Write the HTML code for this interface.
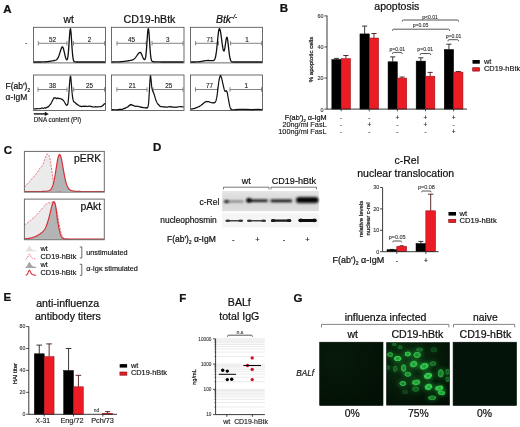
<!DOCTYPE html>
<html><head><meta charset="utf-8"><title>Figure</title>
<style>
html,body{margin:0;padding:0;background:#fff;}
svg{display:block;font-family:"Liberation Sans",Arial,sans-serif;}
text{stroke:#111;stroke-width:0.22px;}
</style></head><body>
<svg width="520" height="427" viewBox="0 0 520 427">
<defs>
<filter id="b1" x="-20%" y="-100%" width="140%" height="300%"><feGaussianBlur stdDeviation="0.8"/></filter>
<filter id="b2" x="-20%" y="-80%" width="140%" height="260%"><feGaussianBlur stdDeviation="0.45"/></filter>
<filter id="b3" x="-30%" y="-30%" width="160%" height="160%"><feGaussianBlur stdDeviation="0.5"/></filter>
<filter id="b4" x="-60%" y="-60%" width="220%" height="220%"><feGaussianBlur stdDeviation="2.2"/></filter>
<radialGradient id="cell" cx="50%" cy="50%" r="50%"><stop offset="0" stop-color="#1c9a32"/><stop offset="0.45" stop-color="#2cc246"/><stop offset="0.75" stop-color="#46ea62"/><stop offset="0.9" stop-color="#34d24e"/><stop offset="1" stop-color="#1a8a2c" stop-opacity="0.4"/></radialGradient>
</defs>
<rect width="520" height="427" fill="#fff"/>
<text x="3.2" y="12.8" font-size="11.5" text-anchor="start" font-weight="bold" font-style="normal" fill="#111" style="stroke:#111;stroke-width:0.242px" stroke="#111" stroke-width="0.3">A</text>
<text x="68.7" y="23.1" font-size="10.3" text-anchor="middle" font-weight="normal" font-style="normal" fill="#111" style="stroke:#111;stroke-width:0.216px" >wt</text>
<text x="149.5" y="23.1" font-size="10.6" text-anchor="middle" font-weight="normal" font-style="normal" fill="#111" style="stroke:#111;stroke-width:0.223px" >CD19-hBtk</text>
<text x="226.6" y="23.1" font-size="10.5" text-anchor="middle" font-style="italic" fill="#111">Btk<tspan font-size="6.5" dy="-4.5">-/-</tspan></text>
<text x="25" y="44.6" font-size="7" text-anchor="start" font-weight="normal" font-style="normal" fill="#111" style="stroke:#111;stroke-width:0.147px" >-</text>
<text x="5.5" y="89.4" font-size="8.5" fill="#111">F(ab')<tspan font-size="4.5" dy="2.5">2</tspan></text>
<text x="5.5" y="100.1" font-size="8.5" text-anchor="start" font-weight="normal" font-style="normal" fill="#111" style="stroke:#111;stroke-width:0.179px" >α-IgM</text>
<rect x="33.5" y="27.3" width="72.0" height="35.599999999999994" fill="none" stroke="#505050" stroke-width="0.85" />
<rect x="111.5" y="27.3" width="72.5" height="35.599999999999994" fill="none" stroke="#505050" stroke-width="0.85" />
<rect x="190.5" y="27.3" width="72.0" height="35.599999999999994" fill="none" stroke="#505050" stroke-width="0.85" />
<rect x="33.5" y="75" width="72.0" height="35.5" fill="none" stroke="#505050" stroke-width="0.85" />
<rect x="111.5" y="75" width="72.5" height="35.5" fill="none" stroke="#505050" stroke-width="0.85" />
<rect x="190.5" y="75" width="72.0" height="35.5" fill="none" stroke="#505050" stroke-width="0.85" />
<line x1="38.3" y1="43.3" x2="67" y2="43.3" stroke="#777" stroke-width="0.9" />
<line x1="38.3" y1="41.099999999999994" x2="38.3" y2="45.5" stroke="#777" stroke-width="0.9" />
<line x1="67" y1="41.099999999999994" x2="67" y2="45.5" stroke="#777" stroke-width="0.9" />
<text x="52.5" y="41.9" font-size="6.3" text-anchor="middle" font-weight="normal" font-style="normal" fill="#222" style="stroke:#222;stroke-width:0.132px" >52</text>
<line x1="73.5" y1="43.3" x2="104.6" y2="43.3" stroke="#777" stroke-width="0.9" />
<line x1="73.5" y1="41.099999999999994" x2="73.5" y2="45.5" stroke="#777" stroke-width="0.9" />
<line x1="104.6" y1="41.099999999999994" x2="104.6" y2="45.5" stroke="#777" stroke-width="0.9" />
<text x="89.5" y="41.9" font-size="6.3" text-anchor="middle" font-weight="normal" font-style="normal" fill="#222" style="stroke:#222;stroke-width:0.132px" >2</text>
<line x1="117" y1="43.3" x2="146.2" y2="43.3" stroke="#777" stroke-width="0.9" />
<line x1="117" y1="41.099999999999994" x2="117" y2="45.5" stroke="#777" stroke-width="0.9" />
<line x1="146.2" y1="41.099999999999994" x2="146.2" y2="45.5" stroke="#777" stroke-width="0.9" />
<text x="131.5" y="41.9" font-size="6.3" text-anchor="middle" font-weight="normal" font-style="normal" fill="#222" style="stroke:#222;stroke-width:0.132px" >45</text>
<line x1="152" y1="43.3" x2="183" y2="43.3" stroke="#777" stroke-width="0.9" />
<line x1="152" y1="41.099999999999994" x2="152" y2="45.5" stroke="#777" stroke-width="0.9" />
<line x1="183" y1="41.099999999999994" x2="183" y2="45.5" stroke="#777" stroke-width="0.9" />
<text x="167.7" y="41.9" font-size="6.3" text-anchor="middle" font-weight="normal" font-style="normal" fill="#222" style="stroke:#222;stroke-width:0.132px" >3</text>
<line x1="195.6" y1="43.3" x2="218.5" y2="43.3" stroke="#777" stroke-width="0.9" />
<line x1="195.6" y1="41.099999999999994" x2="195.6" y2="45.5" stroke="#777" stroke-width="0.9" />
<line x1="218.5" y1="41.099999999999994" x2="218.5" y2="45.5" stroke="#777" stroke-width="0.9" />
<text x="210" y="41.9" font-size="6.3" text-anchor="middle" font-weight="normal" font-style="normal" fill="#222" style="stroke:#222;stroke-width:0.132px" >71</text>
<line x1="230.6" y1="43.3" x2="261.7" y2="43.3" stroke="#777" stroke-width="0.9" />
<line x1="230.6" y1="41.099999999999994" x2="230.6" y2="45.5" stroke="#777" stroke-width="0.9" />
<line x1="261.7" y1="41.099999999999994" x2="261.7" y2="45.5" stroke="#777" stroke-width="0.9" />
<text x="246.9" y="41.9" font-size="6.3" text-anchor="middle" font-weight="normal" font-style="normal" fill="#222" style="stroke:#222;stroke-width:0.132px" >1</text>
<line x1="38" y1="89.5" x2="67" y2="89.5" stroke="#777" stroke-width="0.9" />
<line x1="38" y1="87.3" x2="38" y2="91.7" stroke="#777" stroke-width="0.9" />
<line x1="67" y1="87.3" x2="67" y2="91.7" stroke="#777" stroke-width="0.9" />
<text x="52.5" y="88.1" font-size="6.3" text-anchor="middle" font-weight="normal" font-style="normal" fill="#222" style="stroke:#222;stroke-width:0.132px" >38</text>
<line x1="73.7" y1="89.5" x2="104.5" y2="89.5" stroke="#777" stroke-width="0.9" />
<line x1="73.7" y1="87.3" x2="73.7" y2="91.7" stroke="#777" stroke-width="0.9" />
<line x1="104.5" y1="87.3" x2="104.5" y2="91.7" stroke="#777" stroke-width="0.9" />
<text x="89.5" y="88.1" font-size="6.3" text-anchor="middle" font-weight="normal" font-style="normal" fill="#222" style="stroke:#222;stroke-width:0.132px" >25</text>
<line x1="116.9" y1="89.5" x2="147" y2="89.5" stroke="#777" stroke-width="0.9" />
<line x1="116.9" y1="87.3" x2="116.9" y2="91.7" stroke="#777" stroke-width="0.9" />
<line x1="147" y1="87.3" x2="147" y2="91.7" stroke="#777" stroke-width="0.9" />
<text x="132.3" y="88.1" font-size="6.3" text-anchor="middle" font-weight="normal" font-style="normal" fill="#222" style="stroke:#222;stroke-width:0.132px" >21</text>
<line x1="153" y1="89.5" x2="183" y2="89.5" stroke="#777" stroke-width="0.9" />
<line x1="153" y1="87.3" x2="153" y2="91.7" stroke="#777" stroke-width="0.9" />
<line x1="183" y1="87.3" x2="183" y2="91.7" stroke="#777" stroke-width="0.9" />
<text x="168.7" y="88.1" font-size="6.3" text-anchor="middle" font-weight="normal" font-style="normal" fill="#222" style="stroke:#222;stroke-width:0.132px" >25</text>
<line x1="195.5" y1="89.5" x2="217.5" y2="89.5" stroke="#777" stroke-width="0.9" />
<line x1="195.5" y1="87.3" x2="195.5" y2="91.7" stroke="#777" stroke-width="0.9" />
<line x1="217.5" y1="87.3" x2="217.5" y2="91.7" stroke="#777" stroke-width="0.9" />
<text x="209.5" y="88.1" font-size="6.3" text-anchor="middle" font-weight="normal" font-style="normal" fill="#222" style="stroke:#222;stroke-width:0.132px" >77</text>
<line x1="230" y1="89.5" x2="261.5" y2="89.5" stroke="#777" stroke-width="0.9" />
<line x1="230" y1="87.3" x2="230" y2="91.7" stroke="#777" stroke-width="0.9" />
<line x1="261.5" y1="87.3" x2="261.5" y2="91.7" stroke="#777" stroke-width="0.9" />
<text x="246.3" y="88.1" font-size="6.3" text-anchor="middle" font-weight="normal" font-style="normal" fill="#222" style="stroke:#222;stroke-width:0.132px" >1</text>
<path d="M34.00,62.00 L34.50,62.00 L35.00,62.00 L35.50,62.00 L36.00,62.00 L36.50,62.00 L37.00,62.00 L37.50,62.00 L38.00,61.99 L38.50,61.99 L39.00,61.99 L39.50,61.99 L40.00,61.98 L40.50,61.98 L41.00,61.97 L41.50,61.96 L42.00,61.95 L42.50,61.94 L43.00,61.93 L43.50,61.91 L44.00,61.89 L44.50,61.86 L45.00,61.84 L45.50,61.81 L46.00,61.77 L46.50,61.73 L47.00,61.68 L47.50,61.63 L48.00,61.58 L48.50,61.51 L49.00,61.45 L49.50,61.38 L50.00,61.30 L50.50,61.22 L51.00,61.14 L51.50,61.05 L52.00,60.97 L52.50,60.88 L53.00,60.79 L53.50,60.70 L54.00,60.61 L54.50,60.51 L55.00,60.40 L55.50,60.25 L56.00,60.04 L56.50,59.75 L57.00,59.32 L57.50,58.73 L58.00,57.92 L58.50,56.86 L59.00,55.56 L59.50,54.03 L60.00,52.37 L60.50,50.69 L61.00,49.15 L61.50,47.91 L62.00,47.13 L62.50,46.92 L63.00,47.47 L63.50,48.87 L64.00,50.86 L64.50,53.12 L65.00,55.33 L65.50,57.24 L66.00,58.70 L66.50,59.62 L67.00,59.79 L67.50,58.83 L68.00,56.11 L68.50,51.08 L69.00,43.91 L69.50,36.09 L70.00,30.22 L70.50,28.71 L71.00,32.25 L71.50,39.32 L72.00,47.25 L72.50,53.81 L73.00,58.11 L73.50,60.41 L74.00,61.43 L74.50,61.81 L75.00,61.93 L75.50,61.97 L76.00,61.98 L76.50,61.99 L77.00,61.99 L77.50,61.99 L78.00,61.99 L78.50,62.00 L79.00,62.00 L79.50,62.00 L80.00,62.00 L80.50,62.00 L81.00,62.00 L81.50,62.00 L82.00,62.00 L82.50,62.00 L83.00,62.00 L83.50,62.00 L84.00,62.00 L84.50,62.00 L85.00,62.00 L85.50,62.00 L86.00,62.00 L86.50,62.00 L87.00,62.00 L87.50,62.00 L88.00,62.00 L88.50,62.00 L89.00,62.00 L89.50,62.00 L90.00,62.00 L90.50,62.00 L91.00,62.00 L91.50,62.00 L92.00,62.00 L92.50,62.00 L93.00,62.00 L93.50,62.00 L94.00,62.00 L94.50,62.00 L95.00,62.00 L95.50,62.00 L96.00,62.00 L96.50,62.00 L97.00,62.00 L97.50,62.00 L98.00,62.00 L98.50,62.00 L99.00,62.00 L99.50,62.00 L100.00,62.00 L100.50,62.00 L101.00,62.00 L101.50,62.00 L102.00,62.00 L102.50,62.00 L103.00,62.00 L103.50,62.00 L104.00,62.00 L104.50,62.00 L105.00,62.00" fill="none" stroke="#111" stroke-width="1.3"  stroke-linejoin="round"/>
<path d="M112.00,61.98 L112.50,61.98 L113.00,61.98 L113.50,61.97 L114.00,61.96 L114.50,61.96 L115.00,61.95 L115.50,61.94 L116.00,61.93 L116.50,61.92 L117.00,61.90 L117.50,61.89 L118.00,61.87 L118.50,61.85 L119.00,61.82 L119.50,61.80 L120.00,61.77 L120.50,61.74 L121.00,61.70 L121.50,61.66 L122.00,61.62 L122.50,61.57 L123.00,61.52 L123.50,61.47 L124.00,61.41 L124.50,61.35 L125.00,61.29 L125.50,61.22 L126.00,61.15 L126.50,61.07 L127.00,60.99 L127.50,60.91 L128.00,60.83 L128.50,60.75 L129.00,60.66 L129.50,60.57 L130.00,60.48 L130.50,60.38 L131.00,60.27 L131.50,60.15 L132.00,60.01 L132.50,59.84 L133.00,59.63 L133.50,59.37 L134.00,59.05 L134.50,58.65 L135.00,58.18 L135.50,57.61 L136.00,56.96 L136.50,56.25 L137.00,55.50 L137.50,54.74 L138.00,54.01 L138.50,53.37 L139.00,52.85 L139.50,52.51 L140.00,52.37 L140.50,52.49 L141.00,53.10 L141.50,54.11 L142.00,55.34 L142.50,56.61 L143.00,57.77 L143.50,58.72 L144.00,59.38 L144.50,59.67 L145.00,59.34 L145.50,57.91 L146.00,54.69 L146.50,49.18 L147.00,41.76 L147.50,34.18 L148.00,29.08 L148.50,28.64 L149.00,33.07 L149.50,40.54 L150.00,48.32 L150.50,54.46 L151.00,58.32 L151.50,60.33 L152.00,61.21 L152.50,61.55 L153.00,61.67 L153.50,61.73 L154.00,61.77 L154.50,61.80 L155.00,61.82 L155.50,61.85 L156.00,61.87 L156.50,61.89 L157.00,61.90 L157.50,61.92 L158.00,61.93 L158.50,61.94 L159.00,61.95 L159.50,61.96 L160.00,61.96 L160.50,61.97 L161.00,61.98 L161.50,61.98 L162.00,61.98 L162.50,61.99 L163.00,61.99 L163.50,61.99 L164.00,61.99 L164.50,61.99 L165.00,62.00 L165.50,62.00 L166.00,62.00 L166.50,62.00 L167.00,62.00 L167.50,62.00 L168.00,62.00 L168.50,62.00 L169.00,62.00 L169.50,62.00 L170.00,62.00 L170.50,62.00 L171.00,62.00 L171.50,62.00 L172.00,62.00 L172.50,62.00 L173.00,62.00 L173.50,62.00 L174.00,62.00 L174.50,62.00 L175.00,62.00 L175.50,62.00 L176.00,62.00 L176.50,62.00 L177.00,62.00 L177.50,62.00 L178.00,62.00 L178.50,62.00 L179.00,62.00 L179.50,62.00 L180.00,62.00 L180.50,62.00 L181.00,62.00 L181.50,62.00 L182.00,62.00 L182.50,62.00 L183.00,62.00 L183.50,62.00" fill="none" stroke="#111" stroke-width="1.3"  stroke-linejoin="round"/>
<path d="M191.00,62.00 L191.50,62.00 L192.00,62.00 L192.50,62.00 L193.00,61.99 L193.50,61.99 L194.00,61.99 L194.50,61.98 L195.00,61.98 L195.50,61.97 L196.00,61.95 L196.50,61.94 L197.00,61.91 L197.50,61.89 L198.00,61.85 L198.50,61.81 L199.00,61.76 L199.50,61.71 L200.00,61.64 L200.50,61.57 L201.00,61.49 L201.50,61.40 L202.00,61.30 L202.50,61.21 L203.00,61.11 L203.50,61.01 L204.00,60.92 L204.50,60.83 L205.00,60.75 L205.50,60.68 L206.00,60.62 L206.50,60.58 L207.00,60.54 L207.50,60.52 L208.00,60.51 L208.50,60.51 L209.00,60.52 L209.50,60.54 L210.00,60.56 L210.50,60.59 L211.00,60.62 L211.50,60.65 L212.00,60.68 L212.50,60.69 L213.00,60.67 L213.50,60.57 L214.00,60.30 L214.50,59.75 L215.00,58.74 L215.50,57.04 L216.00,54.47 L216.50,50.89 L217.00,46.39 L217.50,41.30 L218.00,36.23 L218.50,31.95 L219.00,29.23 L219.50,28.59 L220.00,29.56 L220.50,31.71 L221.00,34.81 L221.50,38.49 L222.00,42.36 L222.50,45.98 L223.00,48.91 L223.50,50.73 L224.00,51.10 L224.50,49.86 L225.00,47.15 L225.50,43.57 L226.00,40.04 L226.50,37.64 L227.00,37.20 L227.50,38.98 L228.00,42.56 L228.50,47.09 L229.00,51.62 L229.50,55.44 L230.00,58.24 L230.50,60.05 L231.00,61.08 L231.50,61.61 L232.00,61.85 L232.50,61.95 L233.00,61.98 L233.50,61.99 L234.00,62.00 L234.50,62.00 L235.00,62.00 L235.50,62.00 L236.00,62.00 L236.50,62.00 L237.00,62.00 L237.50,62.00 L238.00,62.00 L238.50,62.00 L239.00,62.00 L239.50,62.00 L240.00,62.00 L240.50,62.00 L241.00,62.00 L241.50,62.00 L242.00,62.00 L242.50,62.00 L243.00,62.00 L243.50,62.00 L244.00,62.00 L244.50,62.00 L245.00,62.00 L245.50,62.00 L246.00,62.00 L246.50,62.00 L247.00,62.00 L247.50,62.00 L248.00,62.00 L248.50,62.00 L249.00,62.00 L249.50,62.00 L250.00,62.00 L250.50,62.00 L251.00,62.00 L251.50,62.00 L252.00,62.00 L252.50,62.00 L253.00,62.00 L253.50,62.00 L254.00,62.00 L254.50,62.00 L255.00,62.00 L255.50,62.00 L256.00,62.00 L256.50,62.00 L257.00,62.00 L257.50,62.00 L258.00,62.00 L258.50,62.00 L259.00,62.00 L259.50,62.00 L260.00,62.00 L260.50,62.00 L261.00,62.00 L261.50,62.00 L262.00,62.00" fill="none" stroke="#111" stroke-width="1.3"  stroke-linejoin="round"/>
<path d="M34.00,109.00 L34.83,108.77 L36.02,108.91 L37.38,108.70 L38.77,108.77 L40.00,108.69 L41.11,108.19 L42.22,108.04 L43.26,108.49 L44.21,107.96 L45.00,107.81 L45.59,108.22 L46.02,107.74 L46.34,107.86 L46.65,107.46 L47.00,107.40 L47.40,106.85 L47.80,106.98 L48.20,106.89 L48.60,106.36 L49.00,106.17 L49.41,105.70 L49.82,104.81 L50.24,104.77 L50.63,104.11 L51.00,103.50 L51.34,102.92 L51.65,102.30 L51.94,101.67 L52.22,101.06 L52.50,100.50 L52.77,99.98 L53.04,99.49 L53.30,99.03 L53.55,98.49 L53.80,97.97 L54.04,98.30 L54.27,97.82 L54.50,97.85 L54.74,97.89 L55.00,97.75 L55.28,97.97 L55.58,97.79 L55.89,98.29 L56.20,98.24 L56.50,98.70 L56.79,98.68 L57.08,98.08 L57.36,98.02 L57.67,98.01 L58.00,98.53 L58.37,98.21 L58.76,98.44 L59.18,98.33 L59.59,98.60 L60.00,98.62 L60.41,98.67 L60.82,98.88 L61.24,98.93 L61.63,99.24 L62.00,99.23 L62.33,99.60 L62.64,99.78 L62.92,100.16 L63.21,100.25 L63.50,100.26 L63.80,100.94 L64.11,101.45 L64.41,102.00 L64.71,102.53 L65.00,103.00 L65.28,103.43 L65.55,104.10 L65.82,104.55 L66.07,104.84 L66.30,104.85 L66.51,105.13 L66.69,104.90 L66.87,105.39 L67.03,105.18 L67.20,104.85 L67.37,104.53 L67.53,104.65 L67.68,104.34 L67.84,103.82 L68.00,103.00 L68.16,101.85 L68.32,100.42 L68.48,98.78 L68.64,96.95 L68.80,95.00 L68.96,92.78 L69.12,90.25 L69.27,87.63 L69.43,85.14 L69.60,83.00 L69.78,81.06 L69.96,79.17 L70.14,77.55 L70.32,76.42 L70.50,76.25 L70.67,76.46 L70.83,77.65 L70.98,79.31 L71.14,81.18 L71.30,83.00 L71.46,84.87 L71.62,86.98 L71.78,89.14 L71.94,91.21 L72.10,93.00 L72.26,94.51 L72.42,95.86 L72.57,97.04 L72.73,98.09 L72.90,99.00 L73.06,99.74 L73.21,100.30 L73.38,100.74 L73.57,101.12 L73.80,101.84 L74.08,101.57 L74.41,102.37 L74.76,102.37 L75.13,102.46 L75.50,102.86 L75.86,103.52 L76.22,103.94 L76.59,103.71 L77.01,104.45 L77.50,104.38 L78.06,105.18 L78.68,105.25 L79.35,105.96 L80.06,106.32 L80.80,106.20 L81.57,106.69 L82.38,106.29 L83.22,106.17 L84.09,106.55 L85.00,106.17 L85.95,106.29 L86.94,106.40 L87.96,106.50 L88.99,106.15 L90.00,106.08 L91.00,106.72 L92.00,106.42 L93.00,106.98 L94.00,107.03 L95.00,106.71 L96.04,106.78 L97.12,106.81 L98.18,106.85 L99.16,106.75 L100.00,106.64 L100.68,106.57 L101.23,106.67 L101.69,106.20 L102.10,105.97 L102.50,105.95 L102.87,105.35 L103.20,105.06 L103.48,105.20 L103.75,104.56 L104.00,104.33 L104.25,103.79 L104.48,103.94 L104.70,103.97 L104.87,103.52 L105.00,103.80" fill="none" stroke="#111" stroke-width="1.2"  stroke-linejoin="round"/>
<path d="M112.00,109.60 L112.85,109.66 L114.06,109.72 L115.46,109.74 L116.83,109.80 L118.00,109.64 L118.94,109.72 L119.79,109.14 L120.57,109.35 L121.30,109.57 L122.00,109.29 L122.67,109.31 L123.30,108.67 L123.88,108.70 L124.45,108.36 L125.00,108.33 L125.54,108.11 L126.06,107.53 L126.56,107.38 L127.04,107.15 L127.50,107.25 L127.94,106.86 L128.36,106.18 L128.76,106.24 L129.14,105.55 L129.50,105.57 L129.83,105.03 L130.14,104.73 L130.42,105.05 L130.71,104.50 L131.00,104.43 L131.28,104.91 L131.55,104.95 L131.83,104.75 L132.14,105.32 L132.50,105.22 L132.93,105.46 L133.40,105.34 L133.92,105.95 L134.45,105.96 L135.00,106.28 L135.57,106.37 L136.16,106.13 L136.78,106.29 L137.39,106.28 L138.00,106.39 L138.60,106.46 L139.20,106.73 L139.80,107.03 L140.40,106.79 L141.00,107.31 L141.61,107.21 L142.22,107.31 L142.84,107.72 L143.43,107.61 L144.00,107.59 L144.55,107.77 L145.09,107.98 L145.61,107.65 L146.08,108.22 L146.50,107.61 L146.84,107.99 L147.13,107.97 L147.37,107.35 L147.59,107.57 L147.80,107.00 L147.99,106.51 L148.16,105.96 L148.31,105.25 L148.45,104.30 L148.60,103.00 L148.75,101.26 L148.89,99.15 L149.02,96.81 L149.16,94.38 L149.30,92.00 L149.44,89.54 L149.59,86.90 L149.73,84.29 L149.87,81.92 L150.00,80.00 L150.11,78.53 L150.21,77.36 L150.30,76.50 L150.40,75.98 L150.50,75.72 L150.61,76.04 L150.72,76.69 L150.84,77.64 L150.97,78.78 L151.10,80.00 L151.24,81.43 L151.39,83.14 L151.55,84.94 L151.72,86.63 L151.90,88.00 L152.10,89.00 L152.31,89.75 L152.54,90.35 L152.77,90.90 L153.00,91.50 L153.23,92.11 L153.47,92.66 L153.71,93.22 L153.95,93.81 L154.20,94.50 L154.45,95.31 L154.69,96.22 L154.95,97.16 L155.21,98.11 L155.50,99.00 L155.81,99.86 L156.15,100.72 L156.49,101.55 L156.85,102.32 L157.20,103.00 L157.55,103.59 L157.90,104.14 L158.26,104.25 L158.63,104.67 L159.00,105.11 L159.36,105.89 L159.69,105.71 L160.05,106.28 L160.47,106.58 L161.00,106.77 L161.66,106.56 L162.41,106.70 L163.23,106.90 L164.10,107.12 L165.00,106.76 L165.94,107.15 L166.93,107.12 L167.95,107.09 L168.98,106.54 L170.00,107.07 L171.00,106.59 L172.00,106.82 L173.00,107.07 L174.00,107.32 L175.00,107.00 L176.02,107.33 L177.07,107.04 L178.11,106.82 L179.10,106.75 L180.00,106.61 L180.85,106.51 L181.68,106.53 L182.42,106.84 L183.05,107.01 L183.50,106.70" fill="none" stroke="#111" stroke-width="1.2"  stroke-linejoin="round"/>
<path d="M191.00,109.30 L191.41,109.12 L191.98,108.91 L192.66,109.01 L193.35,108.56 L194.00,108.62 L194.60,108.36 L195.21,108.02 L195.81,108.05 L196.41,107.60 L197.00,107.57 L197.58,107.14 L198.16,106.88 L198.73,106.76 L199.28,106.67 L199.80,106.01 L200.27,105.74 L200.71,105.61 L201.13,105.43 L201.55,104.90 L202.00,104.45 L202.48,104.36 L202.99,103.49 L203.50,103.49 L204.01,102.83 L204.50,102.42 L204.97,102.11 L205.44,101.93 L205.90,101.94 L206.35,101.45 L206.80,101.54 L207.24,101.56 L207.68,101.51 L208.11,101.73 L208.55,101.64 L209.00,101.78 L209.47,101.99 L209.96,102.38 L210.45,102.42 L210.94,102.50 L211.40,102.74 L211.85,102.74 L212.29,102.71 L212.72,102.98 L213.12,102.93 L213.50,102.67 L213.85,102.80 L214.17,102.72 L214.46,102.81 L214.74,102.61 L215.00,102.19 L215.23,102.31 L215.44,101.80 L215.62,101.48 L215.81,101.05 L216.00,100.50 L216.20,99.83 L216.40,99.06 L216.60,98.18 L216.80,97.17 L217.00,96.00 L217.20,94.62 L217.40,93.03 L217.60,91.33 L217.80,89.62 L218.00,88.00 L218.20,86.41 L218.40,84.80 L218.60,83.22 L218.80,81.77 L219.00,80.50 L219.21,79.42 L219.42,78.49 L219.63,77.69 L219.83,77.03 L220.00,76.50 L220.14,76.12 L220.26,75.70 L220.37,75.74 L220.48,75.89 L220.60,75.63 L220.73,75.87 L220.86,75.78 L220.99,76.23 L221.14,76.55 L221.30,77.00 L221.48,77.60 L221.67,78.33 L221.87,79.16 L222.08,80.06 L222.30,81.00 L222.53,82.03 L222.77,83.16 L223.02,84.34 L223.26,85.47 L223.50,86.50 L223.73,87.45 L223.96,88.37 L224.18,89.21 L224.39,89.94 L224.60,90.50 L224.79,90.87 L224.98,91.17 L225.16,91.31 L225.33,91.24 L225.50,91.39 L225.66,91.01 L225.82,90.99 L225.98,90.70 L226.14,90.53 L226.30,90.48 L226.47,90.84 L226.65,90.94 L226.83,91.32 L227.01,91.83 L227.20,92.50 L227.39,93.37 L227.59,94.42 L227.79,95.60 L227.99,96.81 L228.20,98.00 L228.42,99.20 L228.64,100.46 L228.86,101.72 L229.08,102.92 L229.30,104.00 L229.50,104.97 L229.70,105.87 L229.90,106.69 L230.10,107.40 L230.30,108.00 L230.47,108.45 L230.61,108.77 L230.78,109.21 L231.02,109.14 L231.40,109.38 L231.59,109.19 L231.54,109.57 L231.76,109.56 L232.74,109.74 L235.00,109.66 L239.33,109.41 L245.41,109.46 L252.02,109.59 L257.95,109.26 L262.00,109.50" fill="none" stroke="#111" stroke-width="1.2"  stroke-linejoin="round"/>
<line x1="33.8" y1="113.9" x2="46" y2="113.9" stroke="#111" stroke-width="1.4" />
<path d="M44.8,111.7 L48.8,113.9 L44.8,116.1 Z" fill="#111" stroke="none" stroke-width="1" />
<text x="33.8" y="122" font-size="6.3" text-anchor="start" font-weight="normal" font-style="normal" fill="#111" style="stroke:#111;stroke-width:0.132px" >DNA content (PI)</text>
<text x="279.8" y="12.3" font-size="11.5" text-anchor="start" font-weight="bold" font-style="normal" fill="#111" style="stroke:#111;stroke-width:0.242px" stroke="#111" stroke-width="0.3">B</text>
<text x="396.8" y="9.9" font-size="10.5" text-anchor="middle" font-weight="normal" font-style="normal" fill="#111" style="stroke:#111;stroke-width:0.221px" >apoptosis</text>
<line x1="336.525" y1="59.5" x2="336.525" y2="58.4" stroke="#222" stroke-width="0.9" />
<line x1="333.92499999999995" y1="58.4" x2="339.125" y2="58.4" stroke="#222" stroke-width="0.9" />
<rect x="331.84999999999997" y="59.5" width="9.35" height="49.599999999999994" fill="#000" stroke="#000" stroke-width="0.5" />
<line x1="345.875" y1="58.6" x2="345.875" y2="55.5" stroke="#4a1414" stroke-width="0.9" />
<line x1="343.275" y1="55.5" x2="348.475" y2="55.5" stroke="#4a1414" stroke-width="0.9" />
<rect x="341.2" y="58.6" width="9.35" height="50.49999999999999" fill="#ec1c24" stroke="#8a1016" stroke-width="0.5" />
<line x1="341.2" y1="109.1" x2="341.2" y2="111.3" stroke="#222" stroke-width="0.8" />
<line x1="364.625" y1="33.9" x2="364.625" y2="26.1" stroke="#222" stroke-width="0.9" />
<line x1="362.025" y1="26.1" x2="367.225" y2="26.1" stroke="#222" stroke-width="0.9" />
<rect x="359.95" y="33.9" width="9.35" height="75.19999999999999" fill="#000" stroke="#000" stroke-width="0.5" />
<line x1="373.975" y1="38.0" x2="373.975" y2="33.5" stroke="#4a1414" stroke-width="0.9" />
<line x1="371.375" y1="33.5" x2="376.57500000000005" y2="33.5" stroke="#4a1414" stroke-width="0.9" />
<rect x="369.3" y="38.0" width="9.35" height="71.1" fill="#ec1c24" stroke="#8a1016" stroke-width="0.5" />
<line x1="369.3" y1="109.1" x2="369.3" y2="111.3" stroke="#222" stroke-width="0.8" />
<line x1="392.72499999999997" y1="61.8" x2="392.72499999999997" y2="56.9" stroke="#222" stroke-width="0.9" />
<line x1="390.12499999999994" y1="56.9" x2="395.325" y2="56.9" stroke="#222" stroke-width="0.9" />
<rect x="388.04999999999995" y="61.8" width="9.35" height="47.3" fill="#000" stroke="#000" stroke-width="0.5" />
<line x1="402.075" y1="78.1" x2="402.075" y2="77.0" stroke="#4a1414" stroke-width="0.9" />
<line x1="399.47499999999997" y1="77.0" x2="404.675" y2="77.0" stroke="#4a1414" stroke-width="0.9" />
<rect x="397.4" y="78.1" width="9.35" height="31.0" fill="#ec1c24" stroke="#8a1016" stroke-width="0.5" />
<line x1="397.4" y1="109.1" x2="397.4" y2="111.3" stroke="#222" stroke-width="0.8" />
<line x1="420.825" y1="61.1" x2="420.825" y2="57.8" stroke="#222" stroke-width="0.9" />
<line x1="418.22499999999997" y1="57.8" x2="423.425" y2="57.8" stroke="#222" stroke-width="0.9" />
<rect x="416.15" y="61.1" width="9.35" height="47.99999999999999" fill="#000" stroke="#000" stroke-width="0.5" />
<line x1="430.175" y1="76.2" x2="430.175" y2="72.4" stroke="#4a1414" stroke-width="0.9" />
<line x1="427.575" y1="72.4" x2="432.77500000000003" y2="72.4" stroke="#4a1414" stroke-width="0.9" />
<rect x="425.5" y="76.2" width="9.35" height="32.89999999999999" fill="#ec1c24" stroke="#8a1016" stroke-width="0.5" />
<line x1="425.5" y1="109.1" x2="425.5" y2="111.3" stroke="#222" stroke-width="0.8" />
<line x1="448.925" y1="49.5" x2="448.925" y2="44.2" stroke="#222" stroke-width="0.9" />
<line x1="446.325" y1="44.2" x2="451.52500000000003" y2="44.2" stroke="#222" stroke-width="0.9" />
<rect x="444.25" y="49.5" width="9.35" height="59.599999999999994" fill="#000" stroke="#000" stroke-width="0.5" />
<line x1="458.27500000000003" y1="72.1" x2="458.27500000000003" y2="71.5" stroke="#4a1414" stroke-width="0.9" />
<line x1="455.675" y1="71.5" x2="460.87500000000006" y2="71.5" stroke="#4a1414" stroke-width="0.9" />
<rect x="453.6" y="72.1" width="9.35" height="37.0" fill="#ec1c24" stroke="#8a1016" stroke-width="0.5" />
<line x1="453.6" y1="109.1" x2="453.6" y2="111.3" stroke="#222" stroke-width="0.8" />
<line x1="327.0" y1="15.6" x2="327.0" y2="109.1" stroke="#222" stroke-width="0.9" />
<line x1="327.0" y1="109.1" x2="467" y2="109.1" stroke="#222" stroke-width="0.9" />
<line x1="324.4" y1="109.1" x2="327.0" y2="109.1" stroke="#222" stroke-width="0.8" />
<text x="323.4" y="111.69999999999999" font-size="5.4" text-anchor="end" font-weight="normal" font-style="normal" fill="#333" style="stroke:#333;stroke-width:0.113px" >0</text>
<line x1="324.4" y1="78.03999999999999" x2="327.0" y2="78.03999999999999" stroke="#222" stroke-width="0.8" />
<text x="323.4" y="79.83999999999999" font-size="5.4" text-anchor="end" font-weight="normal" font-style="normal" fill="#333" style="stroke:#333;stroke-width:0.113px" >20</text>
<line x1="324.4" y1="46.98" x2="327.0" y2="46.98" stroke="#222" stroke-width="0.8" />
<text x="323.4" y="48.779999999999994" font-size="5.4" text-anchor="end" font-weight="normal" font-style="normal" fill="#333" style="stroke:#333;stroke-width:0.113px" >40</text>
<line x1="324.4" y1="15.920000000000002" x2="327.0" y2="15.920000000000002" stroke="#222" stroke-width="0.8" />
<text x="323.4" y="17.720000000000002" font-size="5.4" text-anchor="end" font-weight="normal" font-style="normal" fill="#333" style="stroke:#333;stroke-width:0.113px" >60</text>
<text transform="translate(313.4,59.5) rotate(-90)" font-size="6.1" text-anchor="middle" fill="#222">% apoptotic cells</text>
<path d="M402.2,21.6 Q402.2,20 403.3,20 L457.5,20 Q458.6,20 458.6,21.6" fill="none" stroke="#444" stroke-width="0.9" />
<text x="430" y="18.6" font-size="5.1" text-anchor="middle" font-weight="normal" font-style="normal" fill="#333" style="stroke:#333;stroke-width:0.107px" >p&lt;0.01</text>
<path d="M392.4,30.8 Q392.4,29.2 393.5,29.2 L448.5,29.2 Q449.6,29.2 449.6,30.8" fill="none" stroke="#444" stroke-width="0.9" />
<text x="420.6" y="27.2" font-size="5.1" text-anchor="middle" font-weight="normal" font-style="normal" fill="#333" style="stroke:#333;stroke-width:0.107px" >p=0.05</text>
<path d="M392.4,54.0 Q392.4,52.4 393.5,52.4 L401.09999999999997,52.4 Q402.2,52.4 402.2,54.0" fill="none" stroke="#444" stroke-width="0.9" />
<text x="397.3" y="50.6" font-size="5.1" text-anchor="middle" font-weight="normal" font-style="normal" fill="#333" style="stroke:#333;stroke-width:0.107px" >p=0.01</text>
<path d="M420.1,55.1 Q420.1,53.5 421.20000000000005,53.5 L429.7,53.5 Q430.8,53.5 430.8,55.1" fill="none" stroke="#444" stroke-width="0.9" />
<text x="425.2" y="51.4" font-size="5.1" text-anchor="middle" font-weight="normal" font-style="normal" fill="#333" style="stroke:#333;stroke-width:0.107px" >p=0.01</text>
<path d="M447.9,41.300000000000004 Q447.9,39.7 449.0,39.7 L457.5,39.7 Q458.6,39.7 458.6,41.300000000000004" fill="none" stroke="#444" stroke-width="0.9" />
<text x="453.6" y="37.8" font-size="5.1" text-anchor="middle" font-weight="normal" font-style="normal" fill="#333" style="stroke:#333;stroke-width:0.107px" >p=0.01</text>
<text x="326.6" y="119.7" font-size="7.3" text-anchor="end" fill="#222">F(ab')<tspan font-size="4" dy="1.8">2</tspan><tspan dy="-1.8"> α-IgM</tspan></text>
<text x="326.6" y="126.7" font-size="7.3" text-anchor="end" font-weight="normal" font-style="normal" fill="#222" style="stroke:#222;stroke-width:0.153px" >20ng/ml FasL</text>
<text x="326.6" y="133.7" font-size="7.3" text-anchor="end" font-weight="normal" font-style="normal" fill="#222" style="stroke:#222;stroke-width:0.153px" >100ng/ml FasL</text>
<text x="341.2" y="119.80000000000001" font-size="6.5" text-anchor="middle" font-weight="normal" font-style="normal" fill="#222" style="stroke:#222;stroke-width:0.137px" >-</text>
<text x="341.2" y="127.10000000000001" font-size="6.5" text-anchor="middle" font-weight="normal" font-style="normal" fill="#222" style="stroke:#222;stroke-width:0.137px" >-</text>
<text x="341.2" y="134.20000000000002" font-size="6.5" text-anchor="middle" font-weight="normal" font-style="normal" fill="#222" style="stroke:#222;stroke-width:0.137px" >-</text>
<text x="369.3" y="119.80000000000001" font-size="6.5" text-anchor="middle" font-weight="normal" font-style="normal" fill="#222" style="stroke:#222;stroke-width:0.137px" >-</text>
<text x="369.3" y="127.3" font-size="6.5" text-anchor="middle" font-weight="normal" font-style="normal" fill="#222" style="stroke:#222;stroke-width:0.137px" >+</text>
<text x="369.3" y="134.20000000000002" font-size="6.5" text-anchor="middle" font-weight="normal" font-style="normal" fill="#222" style="stroke:#222;stroke-width:0.137px" >-</text>
<text x="397.4" y="120.0" font-size="6.5" text-anchor="middle" font-weight="normal" font-style="normal" fill="#222" style="stroke:#222;stroke-width:0.137px" >+</text>
<text x="397.4" y="127.10000000000001" font-size="6.5" text-anchor="middle" font-weight="normal" font-style="normal" fill="#222" style="stroke:#222;stroke-width:0.137px" >-</text>
<text x="397.4" y="134.20000000000002" font-size="6.5" text-anchor="middle" font-weight="normal" font-style="normal" fill="#222" style="stroke:#222;stroke-width:0.137px" >-</text>
<text x="425.5" y="120.0" font-size="6.5" text-anchor="middle" font-weight="normal" font-style="normal" fill="#222" style="stroke:#222;stroke-width:0.137px" >+</text>
<text x="425.5" y="127.3" font-size="6.5" text-anchor="middle" font-weight="normal" font-style="normal" fill="#222" style="stroke:#222;stroke-width:0.137px" >+</text>
<text x="425.5" y="134.20000000000002" font-size="6.5" text-anchor="middle" font-weight="normal" font-style="normal" fill="#222" style="stroke:#222;stroke-width:0.137px" >-</text>
<text x="453.6" y="120.0" font-size="6.5" text-anchor="middle" font-weight="normal" font-style="normal" fill="#222" style="stroke:#222;stroke-width:0.137px" >+</text>
<text x="453.6" y="127.10000000000001" font-size="6.5" text-anchor="middle" font-weight="normal" font-style="normal" fill="#222" style="stroke:#222;stroke-width:0.137px" >-</text>
<text x="453.6" y="134.4" font-size="6.5" text-anchor="middle" font-weight="normal" font-style="normal" fill="#222" style="stroke:#222;stroke-width:0.137px" >+</text>
<rect x="472.5" y="60" width="7.3" height="3.7" fill="#000" stroke="none" stroke-width="1" />
<text x="484" y="63.7" font-size="7.4" text-anchor="start" font-weight="normal" font-style="normal" fill="#111" style="stroke:#111;stroke-width:0.155px" >wt</text>
<rect x="472.7" y="67.7" width="6.9" height="3.4" fill="#ec1c24" stroke="#7a0c12" stroke-width="0.6" />
<text x="484" y="71.4" font-size="7.4" text-anchor="start" font-weight="normal" font-style="normal" fill="#111" style="stroke:#111;stroke-width:0.155px" >CD19-hBtk</text>
<text x="3.8" y="153.8" font-size="11.5" text-anchor="start" font-weight="bold" font-style="normal" fill="#111" style="stroke:#111;stroke-width:0.242px" stroke="#111" stroke-width="0.3">C</text>
<path d="M24.30,191.50 L24.30,187.00 L24.64,186.66 L25.09,186.20 L25.63,185.66 L26.23,185.06 L26.86,184.42 L27.50,183.77 L28.12,183.12 L28.70,182.50 L29.24,181.90 L29.78,181.29 L30.32,180.66 L30.86,180.03 L31.39,179.40 L31.93,178.76 L32.46,178.13 L33.00,177.50 L33.55,176.87 L34.11,176.24 L34.68,175.60 L35.25,174.97 L35.80,174.34 L36.34,173.71 L36.84,173.10 L37.30,172.50 L37.72,171.90 L38.09,171.29 L38.44,170.69 L38.76,170.09 L39.07,169.52 L39.38,168.97 L39.68,168.46 L40.00,168.00 L40.33,167.61 L40.65,167.30 L40.97,167.05 L41.29,166.81 L41.61,166.57 L41.91,166.29 L42.21,165.94 L42.50,165.50 L42.78,164.95 L43.04,164.32 L43.30,163.64 L43.54,162.91 L43.79,162.16 L44.03,161.41 L44.26,160.68 L44.50,160.00 L44.74,159.32 L44.97,158.62 L45.21,157.91 L45.44,157.22 L45.66,156.56 L45.88,155.96 L46.10,155.43 L46.30,155.00 L46.49,154.67 L46.68,154.41 L46.86,154.22 L47.03,154.09 L47.20,154.02 L47.37,153.98 L47.53,153.98 L47.70,154.00 L47.87,154.05 L48.03,154.13 L48.20,154.25 L48.36,154.41 L48.52,154.61 L48.68,154.86 L48.84,155.15 L49.00,155.50 L49.15,155.90 L49.30,156.33 L49.45,156.81 L49.60,157.34 L49.75,157.92 L49.90,158.56 L50.05,159.25 L50.20,160.00 L50.36,160.82 L50.52,161.71 L50.68,162.66 L50.84,163.66 L51.01,164.70 L51.17,165.78 L51.34,166.88 L51.50,168.00 L51.66,169.17 L51.83,170.41 L51.99,171.69 L52.16,173.00 L52.32,174.31 L52.48,175.59 L52.64,176.83 L52.80,178.00 L52.95,179.12 L53.10,180.23 L53.24,181.32 L53.39,182.38 L53.53,183.38 L53.68,184.33 L53.84,185.21 L54.00,186.00 L54.17,186.71 L54.33,187.34 L54.50,187.91 L54.67,188.42 L54.85,188.87 L55.05,189.28 L55.26,189.66 L55.50,190.00 L55.75,190.30 L56.02,190.54 L56.30,190.73 L56.59,190.89 L56.91,191.01 L57.25,191.12 L57.61,191.21 L58.00,191.30 L58.46,191.38 L58.99,191.43 L59.57,191.46 L60.16,191.48 L60.73,191.49 L61.25,191.49 L61.68,191.49 L62.00,191.50 L62.00,191.50 Z" fill="#ebebeb" stroke="none" stroke-width="1"  stroke-linejoin="round"/>
<path d="M24.30,187.00 L24.64,186.66 L25.09,186.20 L25.63,185.66 L26.23,185.06 L26.86,184.42 L27.50,183.77 L28.12,183.12 L28.70,182.50 L29.24,181.90 L29.78,181.29 L30.32,180.66 L30.86,180.03 L31.39,179.40 L31.93,178.76 L32.46,178.13 L33.00,177.50 L33.55,176.87 L34.11,176.24 L34.68,175.60 L35.25,174.97 L35.80,174.34 L36.34,173.71 L36.84,173.10 L37.30,172.50 L37.72,171.90 L38.09,171.29 L38.44,170.69 L38.76,170.09 L39.07,169.52 L39.38,168.97 L39.68,168.46 L40.00,168.00 L40.33,167.61 L40.65,167.30 L40.97,167.05 L41.29,166.81 L41.61,166.57 L41.91,166.29 L42.21,165.94 L42.50,165.50 L42.78,164.95 L43.04,164.32 L43.30,163.64 L43.54,162.91 L43.79,162.16 L44.03,161.41 L44.26,160.68 L44.50,160.00 L44.74,159.32 L44.97,158.62 L45.21,157.91 L45.44,157.22 L45.66,156.56 L45.88,155.96 L46.10,155.43 L46.30,155.00 L46.49,154.67 L46.68,154.41 L46.86,154.22 L47.03,154.09 L47.20,154.02 L47.37,153.98 L47.53,153.98 L47.70,154.00 L47.87,154.05 L48.03,154.13 L48.20,154.25 L48.36,154.41 L48.52,154.61 L48.68,154.86 L48.84,155.15 L49.00,155.50 L49.15,155.90 L49.30,156.33 L49.45,156.81 L49.60,157.34 L49.75,157.92 L49.90,158.56 L50.05,159.25 L50.20,160.00 L50.36,160.82 L50.52,161.71 L50.68,162.66 L50.84,163.66 L51.01,164.70 L51.17,165.78 L51.34,166.88 L51.50,168.00 L51.66,169.17 L51.83,170.41 L51.99,171.69 L52.16,173.00 L52.32,174.31 L52.48,175.59 L52.64,176.83 L52.80,178.00 L52.95,179.12 L53.10,180.23 L53.24,181.32 L53.39,182.38 L53.53,183.38 L53.68,184.33 L53.84,185.21 L54.00,186.00 L54.17,186.71 L54.33,187.34 L54.50,187.91 L54.67,188.42 L54.85,188.87 L55.05,189.28 L55.26,189.66 L55.50,190.00 L55.75,190.30 L56.02,190.54 L56.30,190.73 L56.59,190.89 L56.91,191.01 L57.25,191.12 L57.61,191.21 L58.00,191.30 L58.46,191.38 L58.99,191.43 L59.57,191.46 L60.16,191.48 L60.73,191.49 L61.25,191.49 L61.68,191.49 L62.00,191.50" fill="none" stroke="#e2565e" stroke-width="0.9" stroke-dasharray="2 1.3" stroke-linejoin="round"/>
<path d="M36.00,191.50 L36.00,191.50 L36.50,191.50 L37.00,191.50 L37.50,191.50 L38.00,191.50 L38.50,191.50 L39.00,191.50 L39.50,191.50 L40.00,191.49 L40.50,191.49 L41.00,191.49 L41.50,191.48 L42.00,191.48 L42.50,191.47 L43.00,191.46 L43.50,191.45 L44.00,191.43 L44.50,191.42 L45.00,191.39 L45.50,191.36 L46.00,191.32 L46.50,191.27 L47.00,191.21 L47.50,191.13 L48.00,191.02 L48.50,190.89 L49.00,190.71 L49.50,190.47 L50.00,190.16 L50.50,189.74 L51.00,189.19 L51.50,188.47 L52.00,187.54 L52.50,186.36 L53.00,184.89 L53.50,183.11 L54.00,180.98 L54.50,178.51 L55.00,175.74 L55.50,172.72 L56.00,169.55 L56.50,166.33 L57.00,163.22 L57.50,160.37 L58.00,157.95 L58.50,156.09 L59.00,154.92 L59.50,154.51 L60.00,154.82 L60.50,155.77 L61.00,157.31 L61.50,159.35 L62.00,161.79 L62.50,164.51 L63.00,167.39 L63.50,170.30 L64.00,173.15 L64.50,175.84 L65.00,178.32 L65.50,180.55 L66.00,182.50 L66.50,184.17 L67.00,185.57 L67.50,186.72 L68.00,187.66 L68.50,188.42 L69.00,189.02 L69.50,189.49 L70.00,189.86 L70.50,190.16 L71.00,190.39 L71.50,190.58 L72.00,190.73 L72.50,190.86 L73.00,190.96 L73.50,191.05 L74.00,191.12 L74.50,191.18 L75.00,191.24 L75.50,191.28 L76.00,191.32 L76.50,191.35 L77.00,191.38 L77.50,191.40 L78.00,191.42 L78.50,191.44 L79.00,191.45 L79.50,191.46 L80.00,191.47 L80.50,191.47 L81.00,191.48 L81.50,191.48 L82.00,191.49 L82.50,191.49 L83.00,191.49 L83.50,191.49 L84.00,191.50 L84.50,191.50 L85.00,191.50 L85.50,191.50 L86.00,191.50 L86.50,191.50 L87.00,191.50 L87.50,191.50 L88.00,191.50 L88.50,191.50 L89.00,191.50 L89.50,191.50 L90.00,191.50 L90.50,191.50 L91.00,191.50 L91.50,191.50 L92.00,191.50 L92.50,191.50 L93.00,191.50 L93.50,191.50 L94.00,191.50 L94.50,191.50 L95.00,191.50 L95.50,191.50 L96.00,191.50 L96.50,191.50 L97.00,191.50 L97.50,191.50 L98.00,191.50 L98.50,191.50 L99.00,191.50 L99.50,191.50 L100.00,191.50 L100.50,191.50 L101.00,191.50 L101.50,191.50 L102.00,191.50 L102.50,191.50 L103.00,191.50 L103.50,191.50 L104.00,191.50 L104.00,191.50 Z" fill="#b4b4b4" stroke="none" stroke-width="1"  stroke-linejoin="round"/>
<path d="M24.30,191.50 L36.00,191.50 L36.00,191.50 L36.50,191.50 L37.00,191.50 L37.50,191.50 L38.00,191.50 L38.50,191.50 L39.00,191.50 L39.50,191.50 L40.00,191.49 L40.50,191.49 L41.00,191.49 L41.50,191.48 L42.00,191.48 L42.50,191.47 L43.00,191.46 L43.50,191.45 L44.00,191.43 L44.50,191.42 L45.00,191.39 L45.50,191.36 L46.00,191.32 L46.50,191.27 L47.00,191.21 L47.50,191.13 L48.00,191.02 L48.50,190.89 L49.00,190.71 L49.50,190.47 L50.00,190.16 L50.50,189.74 L51.00,189.19 L51.50,188.47 L52.00,187.54 L52.50,186.36 L53.00,184.89 L53.50,183.11 L54.00,180.98 L54.50,178.51 L55.00,175.74 L55.50,172.72 L56.00,169.55 L56.50,166.33 L57.00,163.22 L57.50,160.37 L58.00,157.95 L58.50,156.09 L59.00,154.92 L59.50,154.51 L60.00,154.82 L60.50,155.77 L61.00,157.31 L61.50,159.35 L62.00,161.79 L62.50,164.51 L63.00,167.39 L63.50,170.30 L64.00,173.15 L64.50,175.84 L65.00,178.32 L65.50,180.55 L66.00,182.50 L66.50,184.17 L67.00,185.57 L67.50,186.72 L68.00,187.66 L68.50,188.42 L69.00,189.02 L69.50,189.49 L70.00,189.86 L70.50,190.16 L71.00,190.39 L71.50,190.58 L72.00,190.73 L72.50,190.86 L73.00,190.96 L73.50,191.05 L74.00,191.12 L74.50,191.18 L75.00,191.24 L75.50,191.28 L76.00,191.32 L76.50,191.35 L77.00,191.38 L77.50,191.40 L78.00,191.42 L78.50,191.44 L79.00,191.45 L79.50,191.46 L80.00,191.47 L80.50,191.47 L81.00,191.48 L81.50,191.48 L82.00,191.49 L82.50,191.49 L83.00,191.49 L83.50,191.49 L84.00,191.50 L84.50,191.50 L85.00,191.50 L85.50,191.50 L86.00,191.50 L86.50,191.50 L87.00,191.50 L87.50,191.50 L88.00,191.50 L88.50,191.50 L89.00,191.50 L89.50,191.50 L90.00,191.50 L90.50,191.50 L91.00,191.50 L91.50,191.50 L92.00,191.50 L92.50,191.50 L93.00,191.50 L93.50,191.50 L94.00,191.50 L94.50,191.50 L95.00,191.50 L95.50,191.50 L96.00,191.50 L96.50,191.50 L97.00,191.50 L97.50,191.50 L98.00,191.50 L98.50,191.50 L99.00,191.50 L99.50,191.50 L100.00,191.50 L100.50,191.50 L101.00,191.50 L101.50,191.50 L102.00,191.50 L102.50,191.50 L103.00,191.50 L103.50,191.50 L104.00,191.50" fill="none" stroke="#d5303a" stroke-width="1.2"  stroke-linejoin="round"/>
<rect x="24.4" y="151.4" width="79.9" height="40.69999999999999" fill="none" stroke="#6a6a6a" stroke-width="1.0" />
<text x="101.2" y="162.3" font-size="10.4" text-anchor="end" font-weight="normal" font-style="normal" fill="#111" style="stroke:#111;stroke-width:0.218px" >pERK</text>
<path d="M24.30,239.10 L24.30,225.00 L24.58,224.81 L24.96,224.57 L25.40,224.29 L25.90,223.97 L26.43,223.62 L26.97,223.25 L27.50,222.88 L28.00,222.50 L28.49,222.10 L29.00,221.67 L29.52,221.22 L30.04,220.75 L30.56,220.28 L31.06,219.83 L31.55,219.40 L32.00,219.00 L32.43,218.64 L32.84,218.30 L33.23,217.99 L33.61,217.69 L33.97,217.39 L34.32,217.10 L34.67,216.81 L35.00,216.50 L35.32,216.19 L35.61,215.89 L35.90,215.58 L36.17,215.28 L36.44,214.97 L36.71,214.66 L37.00,214.34 L37.30,214.00 L37.62,213.65 L37.94,213.30 L38.27,212.93 L38.61,212.56 L38.95,212.18 L39.29,211.80 L39.65,211.40 L40.00,211.00 L40.37,210.58 L40.75,210.12 L41.15,209.66 L41.54,209.19 L41.94,208.72 L42.31,208.28 L42.67,207.87 L43.00,207.50 L43.30,207.18 L43.58,206.89 L43.85,206.63 L44.09,206.39 L44.33,206.16 L44.56,205.94 L44.78,205.73 L45.00,205.50 L45.21,205.27 L45.40,205.04 L45.58,204.82 L45.75,204.60 L45.92,204.39 L46.10,204.18 L46.29,203.99 L46.50,203.80 L46.73,203.61 L46.98,203.42 L47.24,203.23 L47.50,203.06 L47.76,202.90 L48.02,202.76 L48.27,202.66 L48.50,202.60 L48.71,202.60 L48.91,202.65 L49.10,202.75 L49.28,202.87 L49.46,202.99 L49.64,203.10 L49.82,203.17 L50.00,203.20 L50.19,203.17 L50.38,203.12 L50.56,203.03 L50.75,202.93 L50.94,202.82 L51.12,202.71 L51.31,202.60 L51.50,202.50 L51.69,202.40 L51.88,202.29 L52.06,202.18 L52.25,202.06 L52.44,201.96 L52.62,201.88 L52.81,201.82 L53.00,201.80 L53.19,201.79 L53.38,201.79 L53.56,201.79 L53.75,201.83 L53.94,201.90 L54.12,202.03 L54.31,202.22 L54.50,202.50 L54.69,202.85 L54.87,203.25 L55.05,203.71 L55.23,204.23 L55.42,204.82 L55.60,205.47 L55.80,206.20 L56.00,207.00 L56.21,207.90 L56.43,208.91 L56.66,210.00 L56.89,211.16 L57.12,212.35 L57.35,213.57 L57.58,214.80 L57.80,216.00 L58.02,217.22 L58.22,218.48 L58.43,219.76 L58.64,221.06 L58.84,222.35 L59.06,223.62 L59.27,224.84 L59.50,226.00 L59.74,227.12 L59.98,228.24 L60.23,229.33 L60.48,230.39 L60.74,231.40 L60.99,232.34 L61.25,233.21 L61.50,234.00 L61.75,234.69 L61.99,235.31 L62.23,235.85 L62.47,236.33 L62.71,236.76 L62.96,237.14 L63.23,237.48 L63.50,237.80 L63.78,238.07 L64.05,238.29 L64.33,238.45 L64.62,238.58 L64.93,238.67 L65.26,238.75 L65.61,238.82 L66.00,238.90 L66.46,238.97 L66.99,239.02 L67.57,239.05 L68.16,239.07 L68.73,239.08 L69.25,239.09 L69.68,239.09 L70.00,239.10 L70.00,239.10 Z" fill="#ebebeb" stroke="none" stroke-width="1"  stroke-linejoin="round"/>
<path d="M24.30,225.00 L24.58,224.81 L24.96,224.57 L25.40,224.29 L25.90,223.97 L26.43,223.62 L26.97,223.25 L27.50,222.88 L28.00,222.50 L28.49,222.10 L29.00,221.67 L29.52,221.22 L30.04,220.75 L30.56,220.28 L31.06,219.83 L31.55,219.40 L32.00,219.00 L32.43,218.64 L32.84,218.30 L33.23,217.99 L33.61,217.69 L33.97,217.39 L34.32,217.10 L34.67,216.81 L35.00,216.50 L35.32,216.19 L35.61,215.89 L35.90,215.58 L36.17,215.28 L36.44,214.97 L36.71,214.66 L37.00,214.34 L37.30,214.00 L37.62,213.65 L37.94,213.30 L38.27,212.93 L38.61,212.56 L38.95,212.18 L39.29,211.80 L39.65,211.40 L40.00,211.00 L40.37,210.58 L40.75,210.12 L41.15,209.66 L41.54,209.19 L41.94,208.72 L42.31,208.28 L42.67,207.87 L43.00,207.50 L43.30,207.18 L43.58,206.89 L43.85,206.63 L44.09,206.39 L44.33,206.16 L44.56,205.94 L44.78,205.73 L45.00,205.50 L45.21,205.27 L45.40,205.04 L45.58,204.82 L45.75,204.60 L45.92,204.39 L46.10,204.18 L46.29,203.99 L46.50,203.80 L46.73,203.61 L46.98,203.42 L47.24,203.23 L47.50,203.06 L47.76,202.90 L48.02,202.76 L48.27,202.66 L48.50,202.60 L48.71,202.60 L48.91,202.65 L49.10,202.75 L49.28,202.87 L49.46,202.99 L49.64,203.10 L49.82,203.17 L50.00,203.20 L50.19,203.17 L50.38,203.12 L50.56,203.03 L50.75,202.93 L50.94,202.82 L51.12,202.71 L51.31,202.60 L51.50,202.50 L51.69,202.40 L51.88,202.29 L52.06,202.18 L52.25,202.06 L52.44,201.96 L52.62,201.88 L52.81,201.82 L53.00,201.80 L53.19,201.79 L53.38,201.79 L53.56,201.79 L53.75,201.83 L53.94,201.90 L54.12,202.03 L54.31,202.22 L54.50,202.50 L54.69,202.85 L54.87,203.25 L55.05,203.71 L55.23,204.23 L55.42,204.82 L55.60,205.47 L55.80,206.20 L56.00,207.00 L56.21,207.90 L56.43,208.91 L56.66,210.00 L56.89,211.16 L57.12,212.35 L57.35,213.57 L57.58,214.80 L57.80,216.00 L58.02,217.22 L58.22,218.48 L58.43,219.76 L58.64,221.06 L58.84,222.35 L59.06,223.62 L59.27,224.84 L59.50,226.00 L59.74,227.12 L59.98,228.24 L60.23,229.33 L60.48,230.39 L60.74,231.40 L60.99,232.34 L61.25,233.21 L61.50,234.00 L61.75,234.69 L61.99,235.31 L62.23,235.85 L62.47,236.33 L62.71,236.76 L62.96,237.14 L63.23,237.48 L63.50,237.80 L63.78,238.07 L64.05,238.29 L64.33,238.45 L64.62,238.58 L64.93,238.67 L65.26,238.75 L65.61,238.82 L66.00,238.90 L66.46,238.97 L66.99,239.02 L67.57,239.05 L68.16,239.07 L68.73,239.08 L69.25,239.09 L69.68,239.09 L70.00,239.10" fill="none" stroke="#e2565e" stroke-width="0.9" stroke-dasharray="2 1.3" stroke-linejoin="round"/>
<path d="M24.30,239.10 L24.30,238.80 L24.64,238.77 L25.09,238.74 L25.63,238.71 L26.23,238.66 L26.86,238.61 L27.50,238.55 L28.12,238.48 L28.70,238.40 L29.24,238.31 L29.78,238.21 L30.32,238.10 L30.86,237.99 L31.39,237.86 L31.93,237.72 L32.46,237.57 L33.00,237.40 L33.54,237.22 L34.09,237.02 L34.64,236.81 L35.19,236.59 L35.73,236.35 L36.27,236.11 L36.79,235.86 L37.30,235.60 L37.79,235.33 L38.28,235.06 L38.75,234.78 L39.22,234.49 L39.68,234.18 L40.12,233.87 L40.57,233.54 L41.00,233.20 L41.43,232.85 L41.86,232.49 L42.28,232.12 L42.69,231.73 L43.09,231.33 L43.48,230.91 L43.85,230.47 L44.20,230.00 L44.53,229.51 L44.84,229.01 L45.14,228.50 L45.42,227.96 L45.69,227.39 L45.96,226.80 L46.23,226.17 L46.50,225.50 L46.77,224.79 L47.04,224.04 L47.31,223.25 L47.58,222.44 L47.84,221.60 L48.09,220.74 L48.35,219.87 L48.60,219.00 L48.85,218.11 L49.09,217.18 L49.33,216.24 L49.57,215.28 L49.80,214.32 L50.04,213.36 L50.27,212.42 L50.50,211.50 L50.73,210.57 L50.97,209.62 L51.20,208.65 L51.43,207.71 L51.66,206.80 L51.88,205.94 L52.09,205.17 L52.30,204.50 L52.50,203.92 L52.69,203.40 L52.88,202.94 L53.06,202.55 L53.24,202.23 L53.41,201.98 L53.58,201.80 L53.75,201.70 L53.92,201.67 L54.08,201.72 L54.24,201.83 L54.39,202.02 L54.54,202.28 L54.70,202.61 L54.85,203.02 L55.00,203.50 L55.15,204.08 L55.31,204.76 L55.46,205.53 L55.62,206.36 L55.77,207.25 L55.92,208.16 L56.06,209.08 L56.20,210.00 L56.33,210.92 L56.45,211.86 L56.56,212.82 L56.67,213.81 L56.79,214.82 L56.91,215.86 L57.05,216.92 L57.20,218.00 L57.37,219.13 L57.56,220.33 L57.75,221.56 L57.96,222.81 L58.17,224.05 L58.38,225.27 L58.59,226.42 L58.80,227.50 L59.01,228.52 L59.22,229.51 L59.43,230.47 L59.64,231.39 L59.85,232.26 L60.07,233.07 L60.28,233.82 L60.50,234.50 L60.72,235.11 L60.93,235.64 L61.15,236.11 L61.37,236.53 L61.59,236.89 L61.82,237.22 L62.06,237.52 L62.30,237.80 L62.53,238.04 L62.74,238.23 L62.95,238.37 L63.17,238.49 L63.42,238.58 L63.71,238.65 L64.06,238.72 L64.50,238.80 L64.83,238.87 L64.98,238.93 L65.07,238.98 L65.26,239.01 L65.71,239.04 L66.54,239.06 L67.93,239.08 L70.00,239.10 L73.12,239.11 L77.29,239.12 L82.16,239.12 L87.34,239.12 L92.49,239.11 L97.22,239.11 L101.18,239.10 L104.00,239.10 L104.00,239.10 Z" fill="#b4b4b4" stroke="none" stroke-width="1"  stroke-linejoin="round"/>
<path d="M24.30,238.80 L24.64,238.77 L25.09,238.74 L25.63,238.71 L26.23,238.66 L26.86,238.61 L27.50,238.55 L28.12,238.48 L28.70,238.40 L29.24,238.31 L29.78,238.21 L30.32,238.10 L30.86,237.99 L31.39,237.86 L31.93,237.72 L32.46,237.57 L33.00,237.40 L33.54,237.22 L34.09,237.02 L34.64,236.81 L35.19,236.59 L35.73,236.35 L36.27,236.11 L36.79,235.86 L37.30,235.60 L37.79,235.33 L38.28,235.06 L38.75,234.78 L39.22,234.49 L39.68,234.18 L40.12,233.87 L40.57,233.54 L41.00,233.20 L41.43,232.85 L41.86,232.49 L42.28,232.12 L42.69,231.73 L43.09,231.33 L43.48,230.91 L43.85,230.47 L44.20,230.00 L44.53,229.51 L44.84,229.01 L45.14,228.50 L45.42,227.96 L45.69,227.39 L45.96,226.80 L46.23,226.17 L46.50,225.50 L46.77,224.79 L47.04,224.04 L47.31,223.25 L47.58,222.44 L47.84,221.60 L48.09,220.74 L48.35,219.87 L48.60,219.00 L48.85,218.11 L49.09,217.18 L49.33,216.24 L49.57,215.28 L49.80,214.32 L50.04,213.36 L50.27,212.42 L50.50,211.50 L50.73,210.57 L50.97,209.62 L51.20,208.65 L51.43,207.71 L51.66,206.80 L51.88,205.94 L52.09,205.17 L52.30,204.50 L52.50,203.92 L52.69,203.40 L52.88,202.94 L53.06,202.55 L53.24,202.23 L53.41,201.98 L53.58,201.80 L53.75,201.70 L53.92,201.67 L54.08,201.72 L54.24,201.83 L54.39,202.02 L54.54,202.28 L54.70,202.61 L54.85,203.02 L55.00,203.50 L55.15,204.08 L55.31,204.76 L55.46,205.53 L55.62,206.36 L55.77,207.25 L55.92,208.16 L56.06,209.08 L56.20,210.00 L56.33,210.92 L56.45,211.86 L56.56,212.82 L56.67,213.81 L56.79,214.82 L56.91,215.86 L57.05,216.92 L57.20,218.00 L57.37,219.13 L57.56,220.33 L57.75,221.56 L57.96,222.81 L58.17,224.05 L58.38,225.27 L58.59,226.42 L58.80,227.50 L59.01,228.52 L59.22,229.51 L59.43,230.47 L59.64,231.39 L59.85,232.26 L60.07,233.07 L60.28,233.82 L60.50,234.50 L60.72,235.11 L60.93,235.64 L61.15,236.11 L61.37,236.53 L61.59,236.89 L61.82,237.22 L62.06,237.52 L62.30,237.80 L62.53,238.04 L62.74,238.23 L62.95,238.37 L63.17,238.49 L63.42,238.58 L63.71,238.65 L64.06,238.72 L64.50,238.80 L64.83,238.87 L64.98,238.93 L65.07,238.98 L65.26,239.01 L65.71,239.04 L66.54,239.06 L67.93,239.08 L70.00,239.10 L73.12,239.11 L77.29,239.12 L82.16,239.12 L87.34,239.12 L92.49,239.11 L97.22,239.11 L101.18,239.10 L104.00,239.10" fill="none" stroke="#d5303a" stroke-width="1.2"  stroke-linejoin="round"/>
<rect x="24.4" y="199.1" width="79.9" height="40.599999999999994" fill="none" stroke="#6a6a6a" stroke-width="1.0" />
<text x="101.2" y="210.3" font-size="10.4" text-anchor="end" font-weight="normal" font-style="normal" fill="#111" style="stroke:#111;stroke-width:0.218px" >pAkt</text>
<path d="M25.60,251.00 L25.87,250.91 L26.26,250.79 L26.69,250.57 L27.10,250.20 L27.49,249.56 L27.89,248.72 L28.27,247.87 L28.60,247.20 L28.84,246.71 L29.03,246.32 L29.20,246.07 L29.40,246.00 L29.63,246.17 L29.88,246.54 L30.13,247.02 L30.40,247.50 L30.67,248.01 L30.94,248.58 L31.24,249.14 L31.60,249.60 L32.03,249.94 L32.52,250.21 L33.05,250.42 L33.60,250.60 L34.25,250.75 L34.98,250.86 L35.64,250.94 L36.10,251.00 Z" fill="#e4e0e0" stroke="#eed8d8" stroke-width="0.6"  stroke-linejoin="round"/>
<path d="M25.60,259.00 L25.87,258.91 L26.26,258.79 L26.69,258.57 L27.10,258.20 L27.49,257.56 L27.89,256.73 L28.27,255.87 L28.60,255.20 L28.84,254.71 L29.03,254.32 L29.20,254.07 L29.40,254.00 L29.63,254.17 L29.88,254.54 L30.13,255.02 L30.40,255.50 L30.67,256.01 L30.94,256.58 L31.24,257.14 L31.60,257.60 L32.03,257.94 L32.52,258.21 L33.05,258.42 L33.60,258.60 L34.25,258.75 L34.98,258.86 L35.64,258.94 L36.10,259.00" fill="none" stroke="#e2565e" stroke-width="0.9" stroke-dasharray="1.5 1.2" stroke-linejoin="round"/>
<path d="M25.60,267.40 L25.87,267.31 L26.26,267.19 L26.69,266.97 L27.10,266.60 L27.49,265.96 L27.89,265.12 L28.27,264.27 L28.60,263.60 L28.84,263.11 L29.03,262.72 L29.20,262.47 L29.40,262.40 L29.63,262.57 L29.88,262.94 L30.13,263.42 L30.40,263.90 L30.67,264.41 L30.94,264.98 L31.24,265.54 L31.60,266.00 L32.03,266.34 L32.52,266.61 L33.05,266.82 L33.60,267.00 L34.25,267.15 L34.98,267.26 L35.64,267.34 L36.10,267.40 Z" fill="#a8a8a8" stroke="#888" stroke-width="0.6"  stroke-linejoin="round"/>
<path d="M25.60,275.30 L25.87,275.21 L26.26,275.09 L26.69,274.87 L27.10,274.50 L27.49,273.86 L27.89,273.03 L28.27,272.18 L28.60,271.50 L28.84,271.01 L29.03,270.62 L29.20,270.37 L29.40,270.30 L29.63,270.47 L29.88,270.84 L30.13,271.32 L30.40,271.80 L30.67,272.31 L30.94,272.88 L31.24,273.44 L31.60,273.90 L32.03,274.24 L32.52,274.51 L33.05,274.72 L33.60,274.90 L34.25,275.05 L34.98,275.16 L35.64,275.24 L36.10,275.30" fill="none" stroke="#d5303a" stroke-width="1.1"  stroke-linejoin="round"/>
<text x="40.6" y="250.9" font-size="7.3" text-anchor="start" font-weight="normal" font-style="normal" fill="#111" style="stroke:#111;stroke-width:0.153px" >wt</text>
<text x="40.6" y="259" font-size="7.3" text-anchor="start" font-weight="normal" font-style="normal" fill="#111" style="stroke:#111;stroke-width:0.153px" >CD19-hBtk</text>
<text x="40.6" y="267" font-size="7.3" text-anchor="start" font-weight="normal" font-style="normal" fill="#111" style="stroke:#111;stroke-width:0.153px" >wt</text>
<text x="40.6" y="275.2" font-size="7.3" text-anchor="start" font-weight="normal" font-style="normal" fill="#111" style="stroke:#111;stroke-width:0.153px" >CD19-hBtk</text>
<path d="M79.8,247 L81.8,247 L81.8,258 L79.8,258" fill="none" stroke="#444" stroke-width="0.8" />
<path d="M79.8,264.3 L81.8,264.3 L81.8,275.3 L79.8,275.3" fill="none" stroke="#444" stroke-width="0.8" />
<text x="86.2" y="255" font-size="7.3" text-anchor="start" font-weight="normal" font-style="normal" fill="#111" style="stroke:#111;stroke-width:0.153px" >unstimulated</text>
<text x="86.2" y="271.3" font-size="7.3" text-anchor="start" font-weight="normal" font-style="normal" fill="#111" style="stroke:#111;stroke-width:0.153px" >α-Igκ stimulated</text>
<text x="153.1" y="151.4" font-size="11.5" text-anchor="start" font-weight="bold" font-style="normal" fill="#111" style="stroke:#111;stroke-width:0.242px" stroke="#111" stroke-width="0.3">D</text>
<text x="246.3" y="183.6" font-size="9" text-anchor="middle" font-weight="normal" font-style="normal" fill="#111" style="stroke:#111;stroke-width:0.189px" >wt</text>
<text x="293.9" y="183.6" font-size="9.1" text-anchor="middle" font-weight="normal" font-style="normal" fill="#111" style="stroke:#111;stroke-width:0.191px" >CD19-hBtk</text>
<path d="M223.5,189.4 L223.5,187.2 L269,187.2 L269,189.4" fill="none" stroke="#555" stroke-width="0.8" />
<path d="M271,189.4 L271,187.2 L316.5,187.2 L316.5,189.4" fill="none" stroke="#555" stroke-width="0.8" />
<linearGradient id="s1" x1="0" y1="0" x2="0" y2="1"><stop offset="0" stop-color="#e6e6e6"/><stop offset="0.5" stop-color="#d6d6d6"/><stop offset="1" stop-color="#dedede"/></linearGradient>
<rect x="222.2" y="191" width="96.6" height="20.2" fill="url(#s1)" stroke="none" stroke-width="1" />
<rect x="222.2" y="213.3" width="96.6" height="14.2" fill="#f5f5f5" stroke="none" stroke-width="1" />
<rect x="224.5" y="200.85" width="19.10" height="1.5" rx="0.75" fill="#505050" opacity="0.85" filter="url(#b1)"/>
<ellipse cx="226.5" cy="201.5" rx="2.2" ry="1.6" fill="#222" filter="url(#b1)"/>
<rect x="246.7" y="199.40" width="21.20" height="2.6" rx="1.3" fill="#151515" opacity="1" filter="url(#b1)"/>
<ellipse cx="249" cy="200.3" rx="2.5" ry="2.2" fill="#111" filter="url(#b1)"/>
<rect x="270.4" y="199.45" width="21.80" height="2.9" rx="1.45" fill="#151515" opacity="1" filter="url(#b1)"/>
<rect x="295.5" y="196.45" width="23.10" height="7.5" rx="3.75" fill="#777" opacity="0.6" filter="url(#b1)"/>
<rect x="296.4" y="197.60" width="21.80" height="5.0" rx="2.5" fill="#050505" opacity="1" filter="url(#b1)"/>
<rect x="225.6" y="219.90" width="17.30" height="1.6" rx="0.8" fill="#333" opacity="0.9" filter="url(#b2)"/>
<ellipse cx="227.79999999999998" cy="220.7" rx="2.4" ry="1.3" fill="#333" opacity="0.9" filter="url(#b2)"/>
<ellipse cx="240.70000000000002" cy="220.7" rx="2.4" ry="1.3" fill="#333" opacity="0.9" filter="url(#b2)"/>
<rect x="247.2" y="219.90" width="18.60" height="1.6" rx="0.8" fill="#333" opacity="0.9" filter="url(#b2)"/>
<ellipse cx="249.39999999999998" cy="220.7" rx="2.4" ry="1.3" fill="#333" opacity="0.9" filter="url(#b2)"/>
<ellipse cx="263.6" cy="220.7" rx="2.4" ry="1.3" fill="#333" opacity="0.9" filter="url(#b2)"/>
<rect x="271" y="219.40" width="20.20" height="2.4" rx="1.2" fill="#1a1a1a" opacity="1" filter="url(#b2)"/>
<ellipse cx="273.2" cy="220.6" rx="2.4" ry="1.5" fill="#1a1a1a" opacity="1" filter="url(#b2)"/>
<ellipse cx="289.0" cy="220.6" rx="2.4" ry="1.5" fill="#1a1a1a" opacity="1" filter="url(#b2)"/>
<rect x="298.6" y="218.90" width="17.90" height="3.0" rx="1.5" fill="#111" opacity="1" filter="url(#b2)"/>
<ellipse cx="300.8" cy="220.4" rx="2.4" ry="1.8" fill="#111" opacity="1" filter="url(#b2)"/>
<ellipse cx="314.3" cy="220.4" rx="2.4" ry="1.8" fill="#111" opacity="1" filter="url(#b2)"/>
<text x="219.3" y="204.7" font-size="8.5" text-anchor="end" font-weight="normal" font-style="normal" fill="#111" style="stroke:#111;stroke-width:0.179px" >c-Rel</text>
<text x="216.7" y="222.5" font-size="8.4" text-anchor="end" font-weight="normal" font-style="normal" fill="#111" style="stroke:#111;stroke-width:0.176px" >nucleophosmin</text>
<text x="215.8" y="241.6" font-size="8.5" text-anchor="end" fill="#111">F(ab')<tspan font-size="4.6" dy="2">2</tspan><tspan dy="-2"> α-IgM</tspan></text>
<text x="233.2" y="241.6" font-size="7.6" text-anchor="middle" font-weight="normal" font-style="normal" fill="#111" style="stroke:#111;stroke-width:0.160px" >-</text>
<text x="257.5" y="241.6" font-size="7.6" text-anchor="middle" font-weight="normal" font-style="normal" fill="#111" style="stroke:#111;stroke-width:0.160px" >+</text>
<text x="284" y="241.6" font-size="7.6" text-anchor="middle" font-weight="normal" font-style="normal" fill="#111" style="stroke:#111;stroke-width:0.160px" >-</text>
<text x="307.5" y="241.6" font-size="7.6" text-anchor="middle" font-weight="normal" font-style="normal" fill="#111" style="stroke:#111;stroke-width:0.160px" >+</text>
<text x="406.8" y="164.3" font-size="10.5" text-anchor="middle" font-weight="normal" font-style="normal" fill="#111" style="stroke:#111;stroke-width:0.221px" >c-Rel</text>
<text x="405.7" y="177.2" font-size="10.5" text-anchor="middle" font-weight="normal" font-style="normal" fill="#111" style="stroke:#111;stroke-width:0.221px" >nuclear translocation</text>
<line x1="391.9" y1="249.7" x2="391.9" y2="249.4" stroke="#222" stroke-width="0.9" />
<line x1="389.9" y1="249.4" x2="393.9" y2="249.4" stroke="#222" stroke-width="0.9" />
<rect x="387" y="249.7" width="9.8" height="2.0" fill="#000" stroke="#000" stroke-width="0.5" />
<line x1="401.7" y1="246.2" x2="401.7" y2="245.8" stroke="#4a1414" stroke-width="0.9" />
<line x1="399.7" y1="245.8" x2="403.7" y2="245.8" stroke="#4a1414" stroke-width="0.9" />
<rect x="396.8" y="246.2" width="9.8" height="5.5" fill="#ec1c24" stroke="#8a1016" stroke-width="0.5" />
<line x1="420.9" y1="243.5" x2="420.9" y2="241.4" stroke="#222" stroke-width="0.9" />
<line x1="418.4" y1="241.4" x2="423.4" y2="241.4" stroke="#222" stroke-width="0.9" />
<rect x="416" y="243.5" width="9.8" height="8.199999999999989" fill="#000" stroke="#000" stroke-width="0.5" />
<line x1="430.7" y1="210.8" x2="430.7" y2="194.2" stroke="#4a1414" stroke-width="0.9" />
<line x1="428.0" y1="194.2" x2="433.4" y2="194.2" stroke="#4a1414" stroke-width="0.9" />
<rect x="425.8" y="210.8" width="9.8" height="40.89999999999998" fill="#ec1c24" stroke="#8a1016" stroke-width="0.5" />
<line x1="382.6" y1="187.5" x2="382.6" y2="251.7" stroke="#222" stroke-width="0.9" />
<line x1="382.6" y1="251.7" x2="438.6" y2="251.7" stroke="#222" stroke-width="0.9" />
<line x1="396.8" y1="251.7" x2="396.8" y2="253.89999999999998" stroke="#222" stroke-width="0.8" />
<line x1="425.8" y1="251.7" x2="425.8" y2="253.89999999999998" stroke="#222" stroke-width="0.8" />
<line x1="380.0" y1="251.7" x2="382.6" y2="251.7" stroke="#222" stroke-width="0.8" />
<text x="379.20000000000005" y="253.6" font-size="5.4" text-anchor="end" font-weight="normal" font-style="normal" fill="#333" style="stroke:#333;stroke-width:0.113px" >0</text>
<line x1="380.0" y1="230.29999999999998" x2="382.6" y2="230.29999999999998" stroke="#222" stroke-width="0.8" />
<text x="379.20000000000005" y="232.2" font-size="5.4" text-anchor="end" font-weight="normal" font-style="normal" fill="#333" style="stroke:#333;stroke-width:0.113px" >10</text>
<line x1="380.0" y1="208.89999999999998" x2="382.6" y2="208.89999999999998" stroke="#222" stroke-width="0.8" />
<text x="379.20000000000005" y="210.79999999999998" font-size="5.4" text-anchor="end" font-weight="normal" font-style="normal" fill="#333" style="stroke:#333;stroke-width:0.113px" >20</text>
<line x1="380.0" y1="187.5" x2="382.6" y2="187.5" stroke="#222" stroke-width="0.8" />
<text x="379.20000000000005" y="189.4" font-size="5.4" text-anchor="end" font-weight="normal" font-style="normal" fill="#333" style="stroke:#333;stroke-width:0.113px" >30</text>
<text transform="translate(363.2,219) rotate(-90)" font-size="6" text-anchor="middle" fill="#222">relative levels</text>
<text transform="translate(369.6,219) rotate(-90)" font-size="6" text-anchor="middle" fill="#222">nuclear c-rel</text>
<path d="M392.7,242.3 Q392.7,241 393.8,241 L400.5,241 Q401.6,241 401.6,242.3" fill="none" stroke="#444" stroke-width="0.9" />
<text x="397.2" y="239.2" font-size="5.5" text-anchor="middle" font-weight="normal" font-style="normal" fill="#333" style="stroke:#333;stroke-width:0.116px" >p=0.05</text>
<path d="M421.7,192.3 Q421.7,191 422.8,191 L430.0,191 Q431.1,191 431.1,192.3" fill="none" stroke="#444" stroke-width="0.9" />
<text x="426.4" y="189" font-size="5.5" text-anchor="middle" font-weight="normal" font-style="normal" fill="#333" style="stroke:#333;stroke-width:0.116px" >p=0.08</text>
<text x="332.5" y="263" font-size="9" fill="#111">F(ab')<tspan font-size="5" dy="2">2</tspan><tspan dy="-2"> α-IgM</tspan></text>
<text x="397" y="262.5" font-size="7.5" text-anchor="middle" font-weight="normal" font-style="normal" fill="#222" style="stroke:#222;stroke-width:0.158px" >-</text>
<text x="426" y="263" font-size="7.5" text-anchor="middle" font-weight="normal" font-style="normal" fill="#222" style="stroke:#222;stroke-width:0.158px" >+</text>
<rect x="448.5" y="212" width="7.5" height="3.6" fill="#000" stroke="none" stroke-width="1" />
<text x="459.6" y="215.6" font-size="7.6" text-anchor="start" font-weight="normal" font-style="normal" fill="#111" style="stroke:#111;stroke-width:0.160px" >wt</text>
<rect x="448.7" y="219.3" width="7.1" height="3.3" fill="#ec1c24" stroke="#7a0c12" stroke-width="0.6" />
<text x="459.6" y="222.9" font-size="7.6" text-anchor="start" font-weight="normal" font-style="normal" fill="#111" style="stroke:#111;stroke-width:0.160px" >CD19-hBtk</text>
<text x="3.5" y="301.2" font-size="11.5" text-anchor="start" font-weight="bold" font-style="normal" fill="#111" style="stroke:#111;stroke-width:0.242px" stroke="#111" stroke-width="0.3">E</text>
<text x="67.7" y="307.3" font-size="10.6" text-anchor="middle" font-weight="normal" font-style="normal" fill="#111" style="stroke:#111;stroke-width:0.223px" >anti-influenza</text>
<text x="67.9" y="319.5" font-size="10.6" text-anchor="middle" font-weight="normal" font-style="normal" fill="#111" style="stroke:#111;stroke-width:0.223px" >antibody titers</text>
<line x1="39.275" y1="353.8" x2="39.275" y2="345.1" stroke="#222" stroke-width="0.9" />
<line x1="36.475" y1="345.1" x2="42.074999999999996" y2="345.1" stroke="#222" stroke-width="0.9" />
<rect x="34.35" y="353.8" width="9.85" height="60.5" fill="#000" stroke="#000" stroke-width="0.5" />
<line x1="49.125" y1="356.6" x2="49.125" y2="343.9" stroke="#4a1414" stroke-width="0.9" />
<line x1="46.325" y1="343.9" x2="51.925" y2="343.9" stroke="#4a1414" stroke-width="0.9" />
<rect x="44.2" y="356.6" width="9.85" height="57.69999999999999" fill="#ec1c24" stroke="#8a1016" stroke-width="0.5" />
<line x1="68.575" y1="370.5" x2="68.575" y2="348.5" stroke="#222" stroke-width="0.9" />
<line x1="65.775" y1="348.5" x2="71.375" y2="348.5" stroke="#222" stroke-width="0.9" />
<rect x="63.65" y="370.5" width="9.85" height="43.80000000000001" fill="#000" stroke="#000" stroke-width="0.5" />
<line x1="78.425" y1="386.8" x2="78.425" y2="375.3" stroke="#4a1414" stroke-width="0.9" />
<line x1="75.625" y1="375.3" x2="81.225" y2="375.3" stroke="#4a1414" stroke-width="0.9" />
<rect x="73.5" y="386.8" width="9.85" height="27.5" fill="#ec1c24" stroke="#8a1016" stroke-width="0.5" />
<line x1="107.625" y1="413.2" x2="107.625" y2="411.6" stroke="#4a1414" stroke-width="0.9" />
<line x1="105.125" y1="411.6" x2="110.125" y2="411.6" stroke="#4a1414" stroke-width="0.9" />
<rect x="102.7" y="413.2" width="9.85" height="1.1000000000000227" fill="#ec1c24" stroke="#8a1016" stroke-width="0.5" />
<text x="96.5" y="412" font-size="4.8" text-anchor="middle" font-weight="normal" font-style="normal" fill="#333" style="stroke:#333;stroke-width:0.101px" >nd</text>
<line x1="28.8" y1="326.5" x2="28.8" y2="414.3" stroke="#222" stroke-width="0.9" />
<line x1="28.8" y1="414.3" x2="117" y2="414.3" stroke="#222" stroke-width="0.9" />
<line x1="44.2" y1="414.3" x2="44.2" y2="416.5" stroke="#222" stroke-width="0.8" />
<line x1="73.5" y1="414.3" x2="73.5" y2="416.5" stroke="#222" stroke-width="0.8" />
<line x1="102.8" y1="414.3" x2="102.8" y2="416.5" stroke="#222" stroke-width="0.8" />
<line x1="26.2" y1="414.3" x2="28.8" y2="414.3" stroke="#222" stroke-width="0.8" />
<text x="25.400000000000002" y="416.0" font-size="5.2" text-anchor="end" font-weight="normal" font-style="normal" fill="#333" style="stroke:#333;stroke-width:0.109px" >0</text>
<line x1="26.2" y1="392.366" x2="28.8" y2="392.366" stroke="#222" stroke-width="0.8" />
<text x="25.400000000000002" y="394.066" font-size="5.2" text-anchor="end" font-weight="normal" font-style="normal" fill="#333" style="stroke:#333;stroke-width:0.109px" >20</text>
<line x1="26.2" y1="370.432" x2="28.8" y2="370.432" stroke="#222" stroke-width="0.8" />
<text x="25.400000000000002" y="372.132" font-size="5.2" text-anchor="end" font-weight="normal" font-style="normal" fill="#333" style="stroke:#333;stroke-width:0.109px" >40</text>
<line x1="26.2" y1="348.498" x2="28.8" y2="348.498" stroke="#222" stroke-width="0.8" />
<text x="25.400000000000002" y="350.198" font-size="5.2" text-anchor="end" font-weight="normal" font-style="normal" fill="#333" style="stroke:#333;stroke-width:0.109px" >60</text>
<line x1="26.2" y1="326.564" x2="28.8" y2="326.564" stroke="#222" stroke-width="0.8" />
<text x="25.400000000000002" y="328.264" font-size="5.2" text-anchor="end" font-weight="normal" font-style="normal" fill="#333" style="stroke:#333;stroke-width:0.109px" >80</text>
<text transform="translate(17.4,373.7) rotate(-90)" font-size="5.9" text-anchor="middle" fill="#222">HAI titer</text>
<text x="42.8" y="423.1" font-size="6.8" text-anchor="middle" font-weight="normal" font-style="normal" fill="#222" style="stroke:#222;stroke-width:0.143px" >X-31</text>
<text x="72" y="423.1" font-size="7.3" text-anchor="middle" font-weight="normal" font-style="normal" fill="#222" style="stroke:#222;stroke-width:0.153px" >Eng/72</text>
<text x="102.5" y="423.1" font-size="7.3" text-anchor="middle" font-weight="normal" font-style="normal" fill="#222" style="stroke:#222;stroke-width:0.153px" >Pch/73</text>
<rect x="119.7" y="364.1" width="7.4" height="3.5" fill="#000" stroke="none" stroke-width="1" />
<text x="130.9" y="367.6" font-size="7.4" text-anchor="start" font-weight="normal" font-style="normal" fill="#111" style="stroke:#111;stroke-width:0.155px" >wt</text>
<rect x="119.9" y="372" width="7.0" height="3.2" fill="#ec1c24" stroke="#7a0c12" stroke-width="0.6" />
<text x="130.9" y="375.3" font-size="7.4" text-anchor="start" font-weight="normal" font-style="normal" fill="#111" style="stroke:#111;stroke-width:0.155px" >CD19-hBtk</text>
<text x="179.3" y="302.0" font-size="11.5" text-anchor="start" font-weight="bold" font-style="normal" fill="#111" style="stroke:#111;stroke-width:0.242px" stroke="#111" stroke-width="0.3">F</text>
<text x="239.3" y="305.6" font-size="10.6" text-anchor="middle" font-weight="normal" font-style="normal" fill="#111" style="stroke:#111;stroke-width:0.223px" >BALf</text>
<text x="239.3" y="320" font-size="10.6" text-anchor="middle" font-weight="normal" font-style="normal" fill="#111" style="stroke:#111;stroke-width:0.223px" >total IgG</text>
<line x1="215.6" y1="406.9989926094845" x2="264.8" y2="406.9989926094845" stroke="#e2e2e2" stroke-width="0.7" />
<line x1="215.6" y1="402.55268831832853" x2="264.8" y2="402.55268831832853" stroke="#e2e2e2" stroke-width="0.7" />
<line x1="215.6" y1="399.397985218969" x2="264.8" y2="399.397985218969" stroke="#e2e2e2" stroke-width="0.7" />
<line x1="215.6" y1="396.95100739051554" x2="264.8" y2="396.95100739051554" stroke="#e2e2e2" stroke-width="0.7" />
<line x1="215.6" y1="394.951680927813" x2="264.8" y2="394.951680927813" stroke="#e2e2e2" stroke-width="0.7" />
<line x1="215.6" y1="393.26127448964" x2="264.8" y2="393.26127448964" stroke="#e2e2e2" stroke-width="0.7" />
<line x1="215.6" y1="391.79697782845346" x2="264.8" y2="391.79697782845346" stroke="#e2e2e2" stroke-width="0.7" />
<line x1="215.6" y1="390.50537663665705" x2="264.8" y2="390.50537663665705" stroke="#e2e2e2" stroke-width="0.7" />
<line x1="215.6" y1="389.35" x2="264.8" y2="389.35" stroke="#e2e2e2" stroke-width="0.7" />
<line x1="215.6" y1="381.7489926094845" x2="264.8" y2="381.7489926094845" stroke="#e2e2e2" stroke-width="0.7" />
<line x1="215.6" y1="377.30268831832853" x2="264.8" y2="377.30268831832853" stroke="#e2e2e2" stroke-width="0.7" />
<line x1="215.6" y1="374.147985218969" x2="264.8" y2="374.147985218969" stroke="#e2e2e2" stroke-width="0.7" />
<line x1="215.6" y1="371.70100739051554" x2="264.8" y2="371.70100739051554" stroke="#e2e2e2" stroke-width="0.7" />
<line x1="215.6" y1="369.701680927813" x2="264.8" y2="369.701680927813" stroke="#e2e2e2" stroke-width="0.7" />
<line x1="215.6" y1="368.01127448964" x2="264.8" y2="368.01127448964" stroke="#e2e2e2" stroke-width="0.7" />
<line x1="215.6" y1="366.54697782845346" x2="264.8" y2="366.54697782845346" stroke="#e2e2e2" stroke-width="0.7" />
<line x1="215.6" y1="365.25537663665705" x2="264.8" y2="365.25537663665705" stroke="#e2e2e2" stroke-width="0.7" />
<line x1="215.6" y1="364.1" x2="264.8" y2="364.1" stroke="#e2e2e2" stroke-width="0.7" />
<line x1="215.6" y1="356.4989926094845" x2="264.8" y2="356.4989926094845" stroke="#e2e2e2" stroke-width="0.7" />
<line x1="215.6" y1="352.05268831832853" x2="264.8" y2="352.05268831832853" stroke="#e2e2e2" stroke-width="0.7" />
<line x1="215.6" y1="348.897985218969" x2="264.8" y2="348.897985218969" stroke="#e2e2e2" stroke-width="0.7" />
<line x1="215.6" y1="346.45100739051554" x2="264.8" y2="346.45100739051554" stroke="#e2e2e2" stroke-width="0.7" />
<line x1="215.6" y1="344.451680927813" x2="264.8" y2="344.451680927813" stroke="#e2e2e2" stroke-width="0.7" />
<line x1="215.6" y1="342.76127448964" x2="264.8" y2="342.76127448964" stroke="#e2e2e2" stroke-width="0.7" />
<line x1="215.6" y1="341.29697782845346" x2="264.8" y2="341.29697782845346" stroke="#e2e2e2" stroke-width="0.7" />
<line x1="215.6" y1="340.00537663665705" x2="264.8" y2="340.00537663665705" stroke="#e2e2e2" stroke-width="0.7" />
<line x1="215.6" y1="338.85" x2="264.8" y2="338.85" stroke="#e2e2e2" stroke-width="0.7" />
<line x1="214.2" y1="406.9989926094845" x2="215.6" y2="406.9989926094845" stroke="#333" stroke-width="0.5" />
<line x1="214.2" y1="402.55268831832853" x2="215.6" y2="402.55268831832853" stroke="#333" stroke-width="0.5" />
<line x1="214.2" y1="399.397985218969" x2="215.6" y2="399.397985218969" stroke="#333" stroke-width="0.5" />
<line x1="214.2" y1="396.95100739051554" x2="215.6" y2="396.95100739051554" stroke="#333" stroke-width="0.5" />
<line x1="214.2" y1="394.951680927813" x2="215.6" y2="394.951680927813" stroke="#333" stroke-width="0.5" />
<line x1="214.2" y1="393.26127448964" x2="215.6" y2="393.26127448964" stroke="#333" stroke-width="0.5" />
<line x1="214.2" y1="391.79697782845346" x2="215.6" y2="391.79697782845346" stroke="#333" stroke-width="0.5" />
<line x1="214.2" y1="390.50537663665705" x2="215.6" y2="390.50537663665705" stroke="#333" stroke-width="0.5" />
<line x1="214.2" y1="381.7489926094845" x2="215.6" y2="381.7489926094845" stroke="#333" stroke-width="0.5" />
<line x1="214.2" y1="377.30268831832853" x2="215.6" y2="377.30268831832853" stroke="#333" stroke-width="0.5" />
<line x1="214.2" y1="374.147985218969" x2="215.6" y2="374.147985218969" stroke="#333" stroke-width="0.5" />
<line x1="214.2" y1="371.70100739051554" x2="215.6" y2="371.70100739051554" stroke="#333" stroke-width="0.5" />
<line x1="214.2" y1="369.701680927813" x2="215.6" y2="369.701680927813" stroke="#333" stroke-width="0.5" />
<line x1="214.2" y1="368.01127448964" x2="215.6" y2="368.01127448964" stroke="#333" stroke-width="0.5" />
<line x1="214.2" y1="366.54697782845346" x2="215.6" y2="366.54697782845346" stroke="#333" stroke-width="0.5" />
<line x1="214.2" y1="365.25537663665705" x2="215.6" y2="365.25537663665705" stroke="#333" stroke-width="0.5" />
<line x1="214.2" y1="356.4989926094845" x2="215.6" y2="356.4989926094845" stroke="#333" stroke-width="0.5" />
<line x1="214.2" y1="352.05268831832853" x2="215.6" y2="352.05268831832853" stroke="#333" stroke-width="0.5" />
<line x1="214.2" y1="348.897985218969" x2="215.6" y2="348.897985218969" stroke="#333" stroke-width="0.5" />
<line x1="214.2" y1="346.45100739051554" x2="215.6" y2="346.45100739051554" stroke="#333" stroke-width="0.5" />
<line x1="214.2" y1="344.451680927813" x2="215.6" y2="344.451680927813" stroke="#333" stroke-width="0.5" />
<line x1="214.2" y1="342.76127448964" x2="215.6" y2="342.76127448964" stroke="#333" stroke-width="0.5" />
<line x1="214.2" y1="341.29697782845346" x2="215.6" y2="341.29697782845346" stroke="#333" stroke-width="0.5" />
<line x1="214.2" y1="340.00537663665705" x2="215.6" y2="340.00537663665705" stroke="#333" stroke-width="0.5" />
<line x1="215.6" y1="338.85" x2="215.6" y2="414.6" stroke="#222" stroke-width="0.9" />
<line x1="215.6" y1="414.6" x2="264.8" y2="414.6" stroke="#222" stroke-width="0.9" />
<line x1="213.0" y1="414.6" x2="215.6" y2="414.6" stroke="#222" stroke-width="0.8" />
<text x="211.4" y="416.3" font-size="4.7" text-anchor="end" font-weight="normal" font-style="normal" fill="#333" style="stroke:#333;stroke-width:0.099px" >10</text>
<line x1="213.0" y1="389.35" x2="215.6" y2="389.35" stroke="#222" stroke-width="0.8" />
<text x="211.4" y="391.05" font-size="4.7" text-anchor="end" font-weight="normal" font-style="normal" fill="#333" style="stroke:#333;stroke-width:0.099px" >100</text>
<line x1="213.0" y1="364.1" x2="215.6" y2="364.1" stroke="#222" stroke-width="0.8" />
<text x="211.4" y="365.8" font-size="4.7" text-anchor="end" font-weight="normal" font-style="normal" fill="#333" style="stroke:#333;stroke-width:0.099px" >1000</text>
<line x1="213.0" y1="338.85" x2="215.6" y2="338.85" stroke="#222" stroke-width="0.8" />
<text x="211.4" y="340.55" font-size="4.7" text-anchor="end" font-weight="normal" font-style="normal" fill="#333" style="stroke:#333;stroke-width:0.099px" >10000</text>
<line x1="226.8" y1="414.6" x2="226.8" y2="416.8" stroke="#222" stroke-width="0.8" />
<line x1="252.4" y1="414.6" x2="252.4" y2="416.8" stroke="#222" stroke-width="0.8" />
<text transform="translate(195.6,377) rotate(-90)" font-size="5.6" text-anchor="middle" fill="#222">ng/mL</text>
<circle cx="222.7" cy="370.2" r="1.7" fill="#000"/>
<circle cx="227.3" cy="371.1" r="1.7" fill="#000"/>
<circle cx="227.3" cy="379.6" r="1.7" fill="#000"/>
<circle cx="231.7" cy="379.3" r="1.7" fill="#000"/>
<line x1="218.8" y1="374.3" x2="236" y2="374.3" stroke="#000" stroke-width="1.0" />
<circle cx="252.2" cy="357.9" r="1.7" fill="#c41230"/>
<circle cx="247.5" cy="365.5" r="1.7" fill="#c41230"/>
<circle cx="252.2" cy="369.4" r="1.7" fill="#c41230"/>
<circle cx="252.2" cy="379.6" r="1.7" fill="#c41230"/>
<line x1="243.4" y1="365.5" x2="261" y2="365.5" stroke="#000" stroke-width="1.0" />
<path d="M227.5,336.7 Q227.5,335.2 228.6,335.2 L251.3,335.2 Q252.4,335.2 252.4,336.7" fill="none" stroke="#444" stroke-width="0.9" />
<text x="240" y="334.3" font-size="5.2" text-anchor="middle" font-weight="normal" font-style="normal" fill="#333" style="stroke:#333;stroke-width:0.109px" >n.s</text>
<text x="226.8" y="424.1" font-size="7" text-anchor="middle" font-weight="normal" font-style="normal" fill="#222" style="stroke:#222;stroke-width:0.147px" >wt</text>
<text x="251" y="424.1" font-size="6.9" text-anchor="middle" font-weight="normal" font-style="normal" fill="#222" style="stroke:#222;stroke-width:0.145px" >CD19-hBtk</text>
<text x="293.5" y="301.8" font-size="11.5" text-anchor="start" font-weight="bold" font-style="normal" fill="#111" style="stroke:#111;stroke-width:0.242px" stroke="#111" stroke-width="0.3">G</text>
<text x="385.5" y="320.5" font-size="10.5" text-anchor="middle" font-weight="normal" font-style="normal" fill="#111" style="stroke:#111;stroke-width:0.221px" >influenza infected</text>
<text x="485.4" y="320.5" font-size="10.3" text-anchor="middle" font-weight="normal" font-style="normal" fill="#111" style="stroke:#111;stroke-width:0.216px" >naive</text>
<path d="M321.5,327.4 L321.5,324.4 L448.9,324.4 L448.9,327.4" fill="none" stroke="#666" stroke-width="0.8" />
<path d="M453.5,327.4 L453.5,324.4 L514.7,324.4 L514.7,327.4" fill="none" stroke="#666" stroke-width="0.8" />
<text x="352.7" y="338.2" font-size="10.5" text-anchor="middle" font-weight="normal" font-style="normal" fill="#111" style="stroke:#111;stroke-width:0.221px" >wt</text>
<text x="417.3" y="338.0" font-size="10.6" text-anchor="middle" font-weight="normal" font-style="normal" fill="#111" style="stroke:#111;stroke-width:0.223px" >CD19-hBtk</text>
<text x="485.4" y="338.0" font-size="10.6" text-anchor="middle" font-weight="normal" font-style="normal" fill="#111" style="stroke:#111;stroke-width:0.223px" >CD19-hBtk</text>
<radialGradient id="g1" cx="30%" cy="25%" r="80%"><stop offset="0" stop-color="#071a09"/><stop offset="1" stop-color="#031105"/></radialGradient>
<radialGradient id="g2" cx="35%" cy="30%" r="85%"><stop offset="0" stop-color="#0c2e10"/><stop offset="0.55" stop-color="#061b0a"/><stop offset="1" stop-color="#020d04"/></radialGradient>
<rect x="319.7" y="342.2" width="63.3" height="63.3" fill="url(#g1)" stroke="#010a02" stroke-width="0.6" />
<rect x="386.2" y="342.2" width="63.6" height="63.3" fill="url(#g2)" stroke="none" stroke-width="1" />
<rect x="453.1" y="342.2" width="63.4" height="63.3" fill="#03130a" stroke="#010a02" stroke-width="0.6" />
<clipPath id="cg2"><rect x="386.2" y="342.2" width="63.6" height="63.3"/></clipPath><g clip-path="url(#cg2)">
<ellipse cx="394.3" cy="344.4" rx="3.54" ry="2.53" fill="#2fd048" opacity="0.14" filter="url(#b4)"/>
<ellipse cx="394.3" cy="344.4" rx="2.55" ry="1.82" fill="url(#cell)" opacity="0.32" transform="rotate(0 394.3 344.4)" filter="url(#b3)"/>
<ellipse cx="400.2" cy="347.3" rx="3.54" ry="3.03" fill="#2fd048" opacity="0.14" filter="url(#b4)"/>
<ellipse cx="400.2" cy="347.3" rx="2.55" ry="2.18" fill="url(#cell)" opacity="0.32" transform="rotate(0 400.2 347.3)" filter="url(#b3)"/>
<ellipse cx="390.1" cy="354.5" rx="4.55" ry="3.54" fill="#2fd048" opacity="0.24" filter="url(#b4)"/>
<ellipse cx="390.1" cy="354.5" rx="3.28" ry="2.55" fill="url(#cell)" opacity="0.55" transform="rotate(0 390.1 354.5)" filter="url(#b3)"/>
<ellipse cx="397.7" cy="358.6" rx="5.56" ry="4.04" fill="#2fd048" opacity="0.34" filter="url(#b4)"/>
<ellipse cx="397.7" cy="358.6" rx="4.00" ry="2.91" fill="url(#cell)" opacity="0.78" transform="rotate(0 397.7 358.6)" filter="url(#b3)"/>
<ellipse cx="407.8" cy="354.0" rx="4.55" ry="3.79" fill="#2fd048" opacity="0.34" filter="url(#b4)"/>
<ellipse cx="407.8" cy="354.0" rx="3.28" ry="2.73" fill="url(#cell)" opacity="0.78" transform="rotate(0 407.8 354.0)" filter="url(#b3)"/>
<ellipse cx="417.1" cy="354.9" rx="5.56" ry="4.55" fill="#2fd048" opacity="0.28" filter="url(#b4)"/>
<ellipse cx="417.1" cy="354.9" rx="4.00" ry="3.28" fill="url(#cell)" opacity="0.64" transform="rotate(0 417.1 354.9)" filter="url(#b3)"/>
<ellipse cx="419.6" cy="349.5" rx="5.06" ry="3.03" fill="#2fd048" opacity="0.14" filter="url(#b4)"/>
<ellipse cx="419.6" cy="349.5" rx="3.64" ry="2.18" fill="url(#cell)" opacity="0.32" transform="rotate(0 419.6 349.5)" filter="url(#b3)"/>
<ellipse cx="433.9" cy="349.8" rx="5.06" ry="3.79" fill="#2fd048" opacity="0.08" filter="url(#b4)"/>
<ellipse cx="433.9" cy="349.8" rx="3.64" ry="2.73" fill="url(#cell)" opacity="0.18" transform="rotate(0 433.9 349.8)" filter="url(#b3)"/>
<ellipse cx="413.7" cy="364.1" rx="5.56" ry="4.55" fill="#2fd048" opacity="0.34" filter="url(#b4)"/>
<ellipse cx="413.7" cy="364.1" rx="4.00" ry="3.28" fill="url(#cell)" opacity="0.78" transform="rotate(-20 413.7 364.1)" filter="url(#b3)"/>
<ellipse cx="424.2" cy="366.3" rx="6.57" ry="4.55" fill="#2fd048" opacity="0.36" filter="url(#b4)"/>
<ellipse cx="424.2" cy="366.3" rx="4.73" ry="3.28" fill="url(#cell)" opacity="0.83" transform="rotate(-20 424.2 366.3)" filter="url(#b3)"/>
<ellipse cx="433.1" cy="363.6" rx="5.06" ry="3.54" fill="#2fd048" opacity="0.16" filter="url(#b4)"/>
<ellipse cx="433.1" cy="363.6" rx="3.64" ry="2.55" fill="url(#cell)" opacity="0.37" transform="rotate(0 433.1 363.6)" filter="url(#b3)"/>
<ellipse cx="403.6" cy="368.0" rx="4.04" ry="5.56" fill="#2fd048" opacity="0.26" filter="url(#b4)"/>
<ellipse cx="403.6" cy="368.0" rx="2.91" ry="4.00" fill="url(#cell)" opacity="0.60" transform="rotate(0 403.6 368.0)" filter="url(#b3)"/>
<ellipse cx="395.2" cy="368.8" rx="3.54" ry="4.55" fill="#2fd048" opacity="0.14" filter="url(#b4)"/>
<ellipse cx="395.2" cy="368.8" rx="2.55" ry="3.28" fill="url(#cell)" opacity="0.32" transform="rotate(0 395.2 368.8)" filter="url(#b3)"/>
<ellipse cx="407.8" cy="374.2" rx="5.06" ry="3.79" fill="#2fd048" opacity="0.26" filter="url(#b4)"/>
<ellipse cx="407.8" cy="374.2" rx="3.64" ry="2.73" fill="url(#cell)" opacity="0.60" transform="rotate(0 407.8 374.2)" filter="url(#b3)"/>
<ellipse cx="428.0" cy="375.9" rx="6.07" ry="4.30" fill="#2fd048" opacity="0.40" filter="url(#b4)"/>
<ellipse cx="428.0" cy="375.9" rx="4.37" ry="3.09" fill="url(#cell)" opacity="0.92" transform="rotate(-15 428.0 375.9)" filter="url(#b3)"/>
<ellipse cx="440.7" cy="373.4" rx="4.55" ry="6.07" fill="#2fd048" opacity="0.24" filter="url(#b4)"/>
<ellipse cx="440.7" cy="373.4" rx="3.28" ry="4.37" fill="url(#cell)" opacity="0.55" transform="rotate(0 440.7 373.4)" filter="url(#b3)"/>
<ellipse cx="447.4" cy="371.7" rx="3.03" ry="4.55" fill="#2fd048" opacity="0.16" filter="url(#b4)"/>
<ellipse cx="447.4" cy="371.7" rx="2.18" ry="3.28" fill="url(#cell)" opacity="0.37" transform="rotate(0 447.4 371.7)" filter="url(#b3)"/>
<ellipse cx="447.4" cy="379.3" rx="3.03" ry="4.04" fill="#2fd048" opacity="0.16" filter="url(#b4)"/>
<ellipse cx="447.4" cy="379.3" rx="2.18" ry="2.91" fill="url(#cell)" opacity="0.37" transform="rotate(0 447.4 379.3)" filter="url(#b3)"/>
<ellipse cx="416.2" cy="382.3" rx="6.07" ry="4.04" fill="#2fd048" opacity="0.34" filter="url(#b4)"/>
<ellipse cx="416.2" cy="382.3" rx="4.37" ry="2.91" fill="url(#cell)" opacity="0.78" transform="rotate(-10 416.2 382.3)" filter="url(#b3)"/>
<ellipse cx="402.8" cy="383.5" rx="5.06" ry="3.79" fill="#2fd048" opacity="0.28" filter="url(#b4)"/>
<ellipse cx="402.8" cy="383.5" rx="3.64" ry="2.73" fill="url(#cell)" opacity="0.64" transform="rotate(0 402.8 383.5)" filter="url(#b3)"/>
<ellipse cx="428.5" cy="386.9" rx="5.56" ry="4.30" fill="#2fd048" opacity="0.40" filter="url(#b4)"/>
<ellipse cx="428.5" cy="386.9" rx="4.00" ry="3.09" fill="url(#cell)" opacity="0.92" transform="rotate(-20 428.5 386.9)" filter="url(#b3)"/>
<ellipse cx="439.3" cy="388.1" rx="6.07" ry="3.79" fill="#2fd048" opacity="0.40" filter="url(#b4)"/>
<ellipse cx="439.3" cy="388.1" rx="4.37" ry="2.73" fill="url(#cell)" opacity="0.92" transform="rotate(-10 439.3 388.1)" filter="url(#b3)"/>
<ellipse cx="441.5" cy="392.8" rx="5.56" ry="3.54" fill="#2fd048" opacity="0.34" filter="url(#b4)"/>
<ellipse cx="441.5" cy="392.8" rx="4.00" ry="2.55" fill="url(#cell)" opacity="0.78" transform="rotate(10 441.5 392.8)" filter="url(#b3)"/>
<ellipse cx="415.7" cy="389.1" rx="5.56" ry="4.04" fill="#2fd048" opacity="0.14" filter="url(#b4)"/>
<ellipse cx="415.7" cy="389.1" rx="4.00" ry="2.91" fill="url(#cell)" opacity="0.32" transform="rotate(0 415.7 389.1)" filter="url(#b3)"/>
<ellipse cx="432.2" cy="397.8" rx="6.07" ry="3.54" fill="#2fd048" opacity="0.24" filter="url(#b4)"/>
<ellipse cx="432.2" cy="397.8" rx="4.37" ry="2.55" fill="url(#cell)" opacity="0.55" transform="rotate(0 432.2 397.8)" filter="url(#b3)"/>
<ellipse cx="405.3" cy="391.9" rx="4.55" ry="3.54" fill="#2fd048" opacity="0.07" filter="url(#b4)"/>
<ellipse cx="405.3" cy="391.9" rx="3.28" ry="2.55" fill="url(#cell)" opacity="0.17" transform="rotate(0 405.3 391.9)" filter="url(#b3)"/>
<ellipse cx="388.4" cy="367.5" rx="2.53" ry="3.54" fill="#2fd048" opacity="0.12" filter="url(#b4)"/>
<ellipse cx="388.4" cy="367.5" rx="1.82" ry="2.55" fill="url(#cell)" opacity="0.28" transform="rotate(0 388.4 367.5)" filter="url(#b3)"/>
</g>
<text x="296.3" y="375.9" font-size="8.2" text-anchor="start" font-weight="normal" font-style="italic" fill="#111" style="stroke:#111;stroke-width:0.172px" >BALf</text>
<text x="352.3" y="416.7" font-size="10.4" text-anchor="middle" font-weight="normal" font-style="normal" fill="#111" style="stroke:#111;stroke-width:0.218px" >0%</text>
<text x="418.3" y="416.7" font-size="10.4" text-anchor="middle" font-weight="normal" font-style="normal" fill="#111" style="stroke:#111;stroke-width:0.218px" >75%</text>
<text x="484.6" y="416.7" font-size="10.4" text-anchor="middle" font-weight="normal" font-style="normal" fill="#111" style="stroke:#111;stroke-width:0.218px" >0%</text>
</svg>
</body></html>
